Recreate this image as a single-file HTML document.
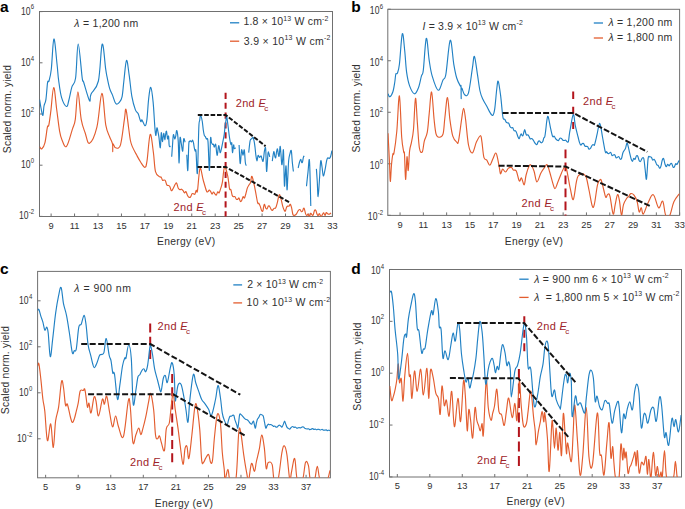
<!DOCTYPE html>
<html><head><meta charset="utf-8"><style>
html,body{margin:0;padding:0;background:#fff;width:685px;height:509px;overflow:hidden}
svg{display:block;font-family:"Liberation Sans",sans-serif}
</style></head><body>
<svg width="685" height="509" viewBox="0 0 685 509">
<defs><clipPath id="ca"><rect x="39.5" y="11.5" width="293.0" height="205.0"/></clipPath><clipPath id="cb"><rect x="387.8" y="9.3" width="291.8" height="206.1"/></clipPath><clipPath id="cc"><rect x="37.6" y="271.4" width="292.79999999999995" height="206.40000000000003"/></clipPath><clipPath id="cd"><rect x="389.5" y="269.5" width="292.0" height="207.5"/></clipPath></defs>
<rect x="39.5" y="11.5" width="293.0" height="205.0" fill="none" stroke="#707070" stroke-width="1"/>
<text x="0.00" y="11.80" font-size="15.5" text-anchor="start" fill="#000" font-weight="bold" font-style="normal" >a</text>
<line x1="51.12" y1="216.5" x2="51.12" y2="213.5" stroke="#707070" stroke-width="1"/>
<text x="51.12" y="228.90" font-size="9.3" text-anchor="middle" fill="#303030" font-weight="normal" font-style="normal" >9</text>
<line x1="74.56" y1="216.5" x2="74.56" y2="213.5" stroke="#707070" stroke-width="1"/>
<text x="74.56" y="228.90" font-size="9.3" text-anchor="middle" fill="#303030" font-weight="normal" font-style="normal" >11</text>
<line x1="98.00" y1="216.5" x2="98.00" y2="213.5" stroke="#707070" stroke-width="1"/>
<text x="98.00" y="228.90" font-size="9.3" text-anchor="middle" fill="#303030" font-weight="normal" font-style="normal" >13</text>
<line x1="121.44" y1="216.5" x2="121.44" y2="213.5" stroke="#707070" stroke-width="1"/>
<text x="121.44" y="228.90" font-size="9.3" text-anchor="middle" fill="#303030" font-weight="normal" font-style="normal" >15</text>
<line x1="144.88" y1="216.5" x2="144.88" y2="213.5" stroke="#707070" stroke-width="1"/>
<text x="144.88" y="228.90" font-size="9.3" text-anchor="middle" fill="#303030" font-weight="normal" font-style="normal" >17</text>
<line x1="168.32" y1="216.5" x2="168.32" y2="213.5" stroke="#707070" stroke-width="1"/>
<text x="168.32" y="228.90" font-size="9.3" text-anchor="middle" fill="#303030" font-weight="normal" font-style="normal" >19</text>
<line x1="191.76" y1="216.5" x2="191.76" y2="213.5" stroke="#707070" stroke-width="1"/>
<text x="191.76" y="228.90" font-size="9.3" text-anchor="middle" fill="#303030" font-weight="normal" font-style="normal" >21</text>
<line x1="215.20" y1="216.5" x2="215.20" y2="213.5" stroke="#707070" stroke-width="1"/>
<text x="215.20" y="228.90" font-size="9.3" text-anchor="middle" fill="#303030" font-weight="normal" font-style="normal" >23</text>
<line x1="238.64" y1="216.5" x2="238.64" y2="213.5" stroke="#707070" stroke-width="1"/>
<text x="238.64" y="228.90" font-size="9.3" text-anchor="middle" fill="#303030" font-weight="normal" font-style="normal" >25</text>
<line x1="262.08" y1="216.5" x2="262.08" y2="213.5" stroke="#707070" stroke-width="1"/>
<text x="262.08" y="228.90" font-size="9.3" text-anchor="middle" fill="#303030" font-weight="normal" font-style="normal" >27</text>
<line x1="285.52" y1="216.5" x2="285.52" y2="213.5" stroke="#707070" stroke-width="1"/>
<text x="285.52" y="228.90" font-size="9.3" text-anchor="middle" fill="#303030" font-weight="normal" font-style="normal" >29</text>
<line x1="308.96" y1="216.5" x2="308.96" y2="213.5" stroke="#707070" stroke-width="1"/>
<text x="308.96" y="228.90" font-size="9.3" text-anchor="middle" fill="#303030" font-weight="normal" font-style="normal" >31</text>
<line x1="332.40" y1="216.5" x2="332.40" y2="213.5" stroke="#707070" stroke-width="1"/>
<text x="332.40" y="228.90" font-size="9.3" text-anchor="middle" fill="#303030" font-weight="normal" font-style="normal" >33</text>
<line x1="39.5" y1="11.60" x2="42.5" y2="11.60" stroke="#707070" stroke-width="1"/>
<text transform="translate(34.20,14.60) scale(0.86,1)" x="0" y="0" font-size="10.0" text-anchor="end" fill="#303030">10<tspan font-size="7" dx="0.4" dy="-5.2">6</tspan></text>
<line x1="39.5" y1="62.80" x2="42.5" y2="62.80" stroke="#707070" stroke-width="1"/>
<text transform="translate(34.20,65.80) scale(0.86,1)" x="0" y="0" font-size="10.0" text-anchor="end" fill="#303030">10<tspan font-size="7" dx="0.4" dy="-5.2">4</tspan></text>
<line x1="39.5" y1="114.00" x2="42.5" y2="114.00" stroke="#707070" stroke-width="1"/>
<text transform="translate(34.20,117.00) scale(0.86,1)" x="0" y="0" font-size="10.0" text-anchor="end" fill="#303030">10<tspan font-size="7" dx="0.4" dy="-5.2">2</tspan></text>
<line x1="39.5" y1="165.20" x2="42.5" y2="165.20" stroke="#707070" stroke-width="1"/>
<text transform="translate(34.20,168.20) scale(0.86,1)" x="0" y="0" font-size="10.0" text-anchor="end" fill="#303030">10<tspan font-size="7" dx="0.4" dy="-5.2">0</tspan></text>
<line x1="39.5" y1="216.40" x2="42.5" y2="216.40" stroke="#707070" stroke-width="1"/>
<text transform="translate(34.20,219.40) scale(0.86,1)" x="0" y="0" font-size="10.0" text-anchor="end" fill="#303030">10<tspan font-size="7" dx="0.4" dy="-5.2">-2</tspan></text>
<text x="186.20" y="244.90" font-size="10.3" text-anchor="middle" fill="#303030" font-weight="normal" font-style="normal" letter-spacing="0.32">Energy (eV)</text>
<text x="0" y="0" font-size="10.3" letter-spacing="0.2" text-anchor="middle" fill="#303030" transform="translate(10.8,109) rotate(-90)">Scaled norm. yield</text>
<line x1="225.6" y1="92.8" x2="225.6" y2="216.5" stroke="#b3141c" stroke-width="2.0" stroke-dasharray="6.2,3.67"/>
<path d="M39.60,146.80 C40.00,147.15 40.97,149.48 41.90,148.80 C42.83,148.12 43.94,146.68 44.90,142.90 C45.86,139.12 46.72,130.30 47.40,127.20 C48.08,124.10 48.20,127.97 48.80,125.20 C49.39,122.44 49.94,118.00 50.80,111.40 C51.66,104.80 52.67,87.83 53.70,87.50 C54.73,87.17 55.67,101.87 56.70,109.50 C57.73,117.13 58.67,125.76 59.60,131.10 C60.53,136.44 60.79,137.32 62.00,140.00 C63.21,142.68 64.68,148.31 66.50,146.40 C68.32,144.49 70.86,133.84 72.40,129.10 C73.94,124.36 74.34,125.83 75.30,119.30 C76.26,112.77 76.87,91.80 77.90,91.80 C78.93,91.80 79.92,112.09 81.20,119.30 C82.48,126.51 83.75,128.80 85.20,133.00 C86.65,137.20 87.45,144.31 89.50,143.30 C91.55,142.29 94.73,135.93 96.90,127.20 C99.07,118.47 100.34,93.75 101.90,93.40 C103.46,93.05 104.44,117.57 105.80,125.20 C107.16,132.83 108.53,133.73 109.70,137.00 C110.87,140.27 111.97,141.33 112.50,143.90 C113.03,146.47 112.61,151.68 112.70,151.70 C112.79,151.72 112.49,144.68 113.00,144.00 C113.51,143.32 114.29,147.66 115.60,147.80 C116.91,147.94 118.96,149.79 120.50,144.80 C122.04,139.81 123.44,125.50 124.40,119.30 C125.36,113.10 125.25,107.79 126.00,109.40 C126.75,111.01 127.95,123.14 128.70,128.50 C129.45,133.85 129.71,136.92 130.30,140.00 C130.90,143.08 131.03,143.54 132.10,146.10 C133.17,148.66 134.91,151.82 136.40,154.60 C137.89,157.38 139.11,159.78 140.60,162.00 C142.09,164.22 143.78,167.48 144.90,167.30 C146.02,167.12 146.07,166.76 147.00,161.00 C147.93,155.24 149.08,135.89 150.20,134.40 C151.32,132.91 152.47,145.99 153.40,152.50 C154.33,159.01 154.40,167.33 155.50,171.60 C156.60,175.87 158.71,175.95 159.70,176.90 C160.69,177.85 160.63,176.40 161.13,177.00 C161.63,177.60 162.06,179.80 162.57,180.33 C163.07,180.85 163.50,179.94 164.00,180.00 C164.50,180.06 164.91,179.80 165.40,180.68 C165.89,181.57 166.31,184.22 166.80,185.05 C167.29,185.87 167.67,185.13 168.20,185.40 C168.72,185.67 169.24,185.65 169.80,186.57 C170.36,187.50 170.84,190.32 171.40,190.70 C171.96,191.08 172.44,189.67 173.00,188.74 C173.56,187.81 174.14,186.29 174.60,185.40 C175.06,184.51 175.28,184.07 175.65,183.68 C176.02,183.30 176.24,182.41 176.70,183.20 C177.16,183.99 177.74,187.05 178.30,188.17 C178.86,189.29 179.34,189.42 179.90,189.60 C180.46,189.78 180.94,188.99 181.50,189.19 C182.06,189.38 182.57,190.03 183.10,190.70 C183.62,191.37 184.01,192.89 184.50,193.03 C184.99,193.17 185.41,191.18 185.90,191.51 C186.39,191.83 186.78,193.90 187.30,194.90 C187.83,195.90 188.34,196.84 188.90,197.21 C189.46,197.58 189.94,197.62 190.50,197.00 C191.06,196.38 191.54,194.22 192.10,193.68 C192.66,193.14 193.20,193.83 193.70,193.90 C194.20,193.97 194.52,194.74 194.97,194.10 C195.41,193.47 195.79,190.87 196.23,190.27 C196.68,189.68 196.84,194.53 197.50,190.70 C198.16,186.87 199.00,170.27 200.00,168.40 C201.00,166.53 202.08,176.10 203.20,180.00 C204.32,183.90 205.59,188.64 206.40,190.70 C207.21,192.76 207.33,191.88 207.83,191.76 C208.34,191.65 208.76,190.04 209.27,190.03 C209.77,190.02 210.20,190.99 210.70,191.70 C211.20,192.41 211.61,194.02 212.10,194.07 C212.59,194.11 213.01,192.00 213.50,191.97 C213.99,191.94 214.40,193.37 214.90,193.90 C215.40,194.43 215.83,195.38 216.33,195.01 C216.84,194.64 217.26,192.17 217.77,191.78 C218.27,191.39 218.67,193.44 219.20,192.80 C219.73,192.16 220.24,189.98 220.80,188.12 C221.36,186.27 221.75,185.84 222.40,182.20 C223.05,178.56 223.57,168.42 224.50,167.30 C225.43,166.18 226.82,172.07 227.70,175.80 C228.57,179.53 228.95,186.18 229.50,188.60 C230.05,191.02 230.39,188.44 230.87,189.64 C231.34,190.83 231.75,194.19 232.23,195.43 C232.71,196.66 233.13,196.50 233.60,196.70 C234.07,196.90 234.47,196.15 234.93,196.58 C235.40,197.01 235.80,198.65 236.27,199.14 C236.73,199.64 237.13,199.61 237.60,199.40 C238.07,199.19 238.49,197.61 238.97,197.95 C239.44,198.30 239.85,200.95 240.33,201.40 C240.81,201.84 241.22,201.32 241.70,200.50 C242.18,199.68 242.59,197.17 243.07,196.73 C243.54,196.29 243.96,198.47 244.43,198.00 C244.91,197.52 245.28,195.77 245.80,194.00 C246.32,192.23 246.84,189.48 247.40,187.90 C247.96,186.33 248.46,185.93 249.00,185.00 C249.54,184.07 249.97,184.09 250.50,182.59 C251.03,181.08 251.21,175.31 252.00,176.40 C252.79,177.49 254.02,184.22 255.00,188.80 C255.98,193.39 256.92,200.06 257.60,202.60 C258.28,205.14 258.44,202.70 258.90,203.31 C259.35,203.92 259.75,204.89 260.20,206.10 C260.65,207.31 261.05,209.31 261.50,210.20 C261.95,211.09 262.42,211.82 262.80,211.20 C263.18,210.58 263.35,207.86 263.65,206.65 C263.95,205.44 264.12,204.03 264.50,204.30 C264.88,204.57 265.35,207.45 265.80,208.22 C266.25,208.99 266.65,209.10 267.10,208.70 C267.56,208.30 267.94,206.34 268.40,205.95 C268.85,205.57 269.25,205.95 269.70,206.50 C270.15,207.05 270.55,208.43 271.00,209.11 C271.45,209.80 271.78,210.53 272.30,210.40 C272.82,210.27 273.41,208.84 274.00,208.39 C274.59,207.93 275.10,208.90 275.70,207.80 C276.30,206.70 276.84,204.39 277.45,202.11 C278.06,199.84 278.59,195.40 279.20,194.80 C279.81,194.20 280.34,196.72 280.95,198.69 C281.56,200.67 282.17,204.17 282.70,206.10 C283.23,208.03 283.55,208.85 284.00,209.74 C284.45,210.63 284.85,211.62 285.30,211.20 C285.75,210.78 286.11,208.21 286.55,207.32 C286.99,206.43 287.35,206.31 287.80,206.10 C288.25,205.89 288.65,206.43 289.10,206.12 C289.56,205.80 289.94,203.91 290.40,204.30 C290.85,204.69 291.25,206.50 291.70,208.32 C292.15,210.14 292.47,213.48 293.00,214.70 C293.53,215.92 294.14,215.43 294.75,215.28 C295.36,215.12 295.89,214.61 296.50,213.80 C297.11,212.99 297.64,211.42 298.25,210.67 C298.86,209.92 299.48,209.33 300.00,209.50 C300.52,209.67 300.81,211.33 301.25,211.63 C301.69,211.92 302.12,211.72 302.50,211.20 C302.88,210.68 303.08,209.11 303.40,208.67 C303.71,208.24 303.92,207.80 304.30,208.70 C304.69,209.60 305.15,212.62 305.60,213.83 C306.06,215.04 306.45,215.57 306.90,215.60 C307.35,215.63 307.71,213.76 308.15,213.98 C308.59,214.20 308.96,216.98 309.40,216.86 C309.84,216.74 310.21,213.68 310.65,213.31 C311.09,212.93 311.45,214.39 311.90,214.70 C312.35,215.01 312.75,215.80 313.20,215.06 C313.65,214.31 314.05,211.26 314.50,210.45 C314.95,209.63 315.38,209.82 315.80,210.40 C316.22,210.98 316.51,212.84 316.90,213.75 C317.28,214.66 317.55,215.61 318.00,215.60 C318.45,215.59 318.95,213.47 319.47,213.68 C319.98,213.88 320.42,216.58 320.93,216.76 C321.45,216.93 321.92,215.39 322.40,214.70 C322.88,214.01 323.25,212.65 323.70,212.80 C324.15,212.94 324.55,215.54 325.00,215.51 C325.45,215.47 325.85,212.88 326.30,212.59 C326.75,212.29 327.08,213.52 327.60,213.80 C328.12,214.08 328.71,214.35 329.30,214.21 C329.89,214.07 330.70,213.21 331.00,213.00" fill="none" stroke="#e35d2f" stroke-width="1.15" stroke-linejoin="round" clip-path="url(#ca)"/>
<path d="M39.60,99.60 C39.84,101.07 40.42,105.23 41.00,108.00 C41.58,110.77 42.38,115.75 42.90,115.40 C43.42,115.05 43.48,108.77 44.00,106.00 C44.52,103.23 45.27,103.73 45.90,99.60 C46.53,95.47 47.06,85.66 47.60,82.40 C48.14,79.15 48.35,83.31 49.00,81.00 C49.65,78.69 50.44,76.55 51.30,69.20 C52.16,61.85 52.88,39.77 53.90,39.00 C54.91,38.23 56.28,57.62 57.10,64.80 C57.92,71.97 57.81,74.24 58.60,80.00 C59.39,85.76 60.22,93.06 61.60,97.70 C62.98,102.34 65.22,106.10 66.50,106.50 C67.78,106.90 67.95,103.43 68.90,100.00 C69.85,96.57 70.73,90.75 71.90,86.90 C73.07,83.05 74.50,85.49 75.60,78.00 C76.70,70.51 77.05,44.10 78.20,44.10 C79.36,44.10 81.26,71.37 82.20,78.00 C83.14,84.63 82.32,78.05 83.60,82.00 C84.88,85.95 88.20,98.46 89.50,100.60 C90.80,102.73 89.44,97.63 91.00,94.20 C92.56,90.77 96.44,89.77 98.40,81.00 C100.36,72.23 100.92,46.16 102.20,44.10 C103.48,42.04 104.84,63.41 105.70,69.20 C106.56,74.99 106.40,73.79 107.10,77.20 C107.80,80.61 108.77,85.60 109.70,88.70 C110.63,91.80 111.32,92.28 112.40,94.90 C113.48,97.53 114.66,102.46 115.90,103.70 C117.14,104.94 118.42,103.24 119.50,102.00 C120.58,100.76 121.33,100.33 122.10,96.60 C122.87,92.87 123.13,87.03 123.90,80.70 C124.67,74.37 125.57,61.33 126.50,60.40 C127.43,59.47 128.25,69.07 129.20,75.40 C130.14,81.73 130.81,90.56 131.90,96.60 C132.99,102.64 134.31,106.94 135.40,109.90 C136.49,112.86 137.17,111.49 138.10,113.50 C139.03,115.51 140.02,120.26 140.70,121.40 C141.38,122.54 141.23,119.23 142.00,120.00 C142.77,120.77 144.24,125.87 145.10,125.80 C145.96,125.73 146.27,124.39 146.90,119.60 C147.53,114.80 148.02,104.03 148.70,98.40 C149.38,92.77 150.03,86.79 150.80,87.40 C151.57,88.01 152.40,95.06 153.10,101.90 C153.80,108.74 154.33,120.64 154.80,126.50 C155.27,132.36 155.43,135.16 155.80,135.40 C156.17,135.65 156.52,128.50 156.90,127.90 C157.28,127.31 157.65,130.44 158.00,132.00 C158.35,133.56 158.50,134.03 158.90,136.80 C159.30,139.57 159.88,148.52 160.30,147.80 C160.72,147.08 160.93,133.78 161.30,132.70 C161.67,131.61 161.98,141.48 162.40,141.60 C162.82,141.72 163.28,133.75 163.70,133.40 C164.12,133.05 164.46,139.45 164.80,139.60 C165.14,139.75 165.35,135.72 165.65,134.27 C165.95,132.82 166.16,130.49 166.50,131.30 C166.84,132.11 167.23,138.06 167.60,138.90 C167.97,139.74 168.32,134.91 168.60,136.10 C168.88,137.29 168.85,143.90 169.20,145.70 C169.55,147.50 170.35,146.28 170.60,146.40 M171.70,156.70 C171.85,154.57 172.25,148.37 172.55,144.52 C172.85,140.67 173.02,135.68 173.40,134.70 C173.78,133.72 174.29,138.66 174.70,138.90 C175.11,139.14 175.38,137.51 175.75,136.06 C176.12,134.61 176.37,129.75 176.80,130.60 C177.23,131.45 177.80,135.25 178.20,140.90 C178.60,146.55 178.78,163.37 179.10,162.90 C179.41,162.43 179.62,141.56 180.00,138.20 C180.38,134.84 180.83,141.42 181.30,143.70 C181.77,145.97 182.28,152.04 182.70,151.20 C183.12,150.36 183.28,140.46 183.70,138.90 C184.12,137.34 184.85,141.71 185.10,142.30 M186.80,154.70 C186.98,157.47 187.45,172.30 187.80,170.50 C188.15,168.70 188.48,149.48 188.80,144.40 C189.12,139.32 189.35,142.08 189.65,141.47 C189.95,140.86 190.17,140.83 190.50,140.90 C190.83,140.97 191.18,141.98 191.55,141.86 C191.92,141.74 192.27,140.07 192.60,140.20 C192.93,140.33 193.15,141.30 193.45,142.63 C193.75,143.96 194.00,146.33 194.30,147.80 C194.60,149.27 194.85,150.44 195.15,151.04 C195.45,151.63 195.61,147.32 196.00,151.20 C196.39,155.08 196.91,177.28 197.40,173.20 C197.89,169.12 198.40,137.14 198.80,127.90 C199.20,118.66 199.38,122.56 199.70,120.39 C200.01,118.22 200.16,115.39 200.60,115.50 C201.04,115.61 201.74,118.51 202.20,121.00 C202.66,123.49 202.88,127.19 203.25,129.71 C203.62,132.23 203.93,134.19 204.30,135.40 C204.67,136.61 204.98,136.03 205.35,136.64 C205.72,137.25 205.94,138.03 206.40,138.90 C206.86,139.77 207.47,136.07 208.00,141.60 C208.53,147.13 208.96,170.97 209.40,170.50 C209.84,170.03 210.13,143.77 210.50,138.90 C210.87,134.03 211.15,141.69 211.50,142.65 C211.85,143.61 212.17,144.13 212.50,144.40 C212.83,144.67 213.09,143.74 213.40,144.21 C213.72,144.69 213.90,147.05 214.30,147.10 C214.70,147.15 215.21,143.05 215.70,144.50 C216.19,145.95 216.57,155.19 217.10,155.40 C217.62,155.61 218.17,146.19 218.70,145.70 C219.22,145.21 219.64,152.02 220.10,152.60 C220.56,153.18 220.91,150.69 221.35,149.01 C221.79,147.33 222.10,145.50 222.60,143.00 C223.10,140.50 223.77,137.61 224.20,134.70 C224.63,131.79 224.75,128.76 225.05,126.36 C225.35,123.96 225.61,122.74 225.90,121.00 C226.19,119.26 226.31,115.44 226.70,116.40 C227.08,117.36 227.61,122.81 228.10,126.50 C228.59,130.19 229.01,134.37 229.50,137.50 C229.99,140.63 230.50,143.44 230.90,144.40 C231.30,145.36 231.52,141.56 231.80,143.00 C232.08,144.44 232.19,152.25 232.50,152.60 C232.81,152.95 233.28,145.72 233.60,145.00 C233.91,144.28 233.93,148.01 234.30,148.50 C234.67,148.99 235.45,147.92 235.70,147.80 M239.10,145.00 C239.29,148.25 239.76,162.74 240.20,163.60 C240.64,164.46 241.11,151.34 241.60,149.90 C242.09,148.47 242.53,155.40 243.00,155.40 C243.47,155.40 243.90,148.71 244.30,149.90 C244.70,151.09 244.95,159.44 245.30,162.20 C245.65,164.96 246.12,165.09 246.30,165.70 M248.70,152.60 C248.94,150.55 249.61,143.30 250.10,140.90 C250.59,138.50 250.97,139.50 251.50,138.90 C252.03,138.31 252.63,137.03 253.10,137.50 C253.57,137.97 253.86,139.86 254.20,141.60 C254.54,143.34 254.75,145.05 255.05,147.47 C255.35,149.88 255.56,153.05 255.90,155.40 C256.24,157.75 256.62,160.90 257.00,160.90 C257.38,160.90 257.66,156.01 258.10,155.40 C258.54,154.79 258.98,157.30 259.50,157.40 C260.02,157.50 260.64,155.62 261.10,156.00 C261.56,156.38 261.78,158.74 262.15,159.60 C262.52,160.45 262.79,162.46 263.20,160.90 C263.61,159.34 264.06,152.78 264.50,150.70 C264.94,148.62 265.33,145.36 265.70,149.00 C266.07,152.64 266.20,170.75 266.60,171.50 C267.00,172.25 267.61,156.48 268.00,153.30 C268.39,150.12 268.55,152.72 268.85,153.34 C269.15,153.95 269.55,156.19 269.70,156.80 M272.30,161.10 C272.45,160.01 272.85,156.54 273.15,154.88 C273.45,153.22 273.70,151.35 274.00,151.60 C274.30,151.85 274.55,155.22 274.85,156.29 C275.15,157.36 275.39,158.51 275.70,157.70 C276.01,156.89 276.29,153.16 276.60,151.64 C276.92,150.11 277.19,148.52 277.50,149.00 C277.81,149.48 278.05,153.16 278.35,154.37 C278.65,155.58 278.89,157.29 279.20,155.90 C279.51,154.51 279.79,146.76 280.10,146.40 C280.41,146.04 280.65,150.68 280.95,153.86 C281.25,157.05 281.50,163.61 281.80,164.60 C282.10,165.59 282.35,161.97 282.65,159.54 C282.95,157.11 283.19,146.19 283.50,150.70 C283.81,155.21 284.09,181.02 284.40,185.30 C284.71,189.58 284.95,178.48 285.25,175.16 C285.55,171.83 285.79,163.77 286.10,166.30 C286.41,168.83 286.69,187.87 287.00,189.60 C287.31,191.33 287.55,181.33 287.85,176.20 C288.15,171.07 288.32,164.26 288.70,160.30 C289.08,156.34 289.55,155.26 290.00,153.58 C290.45,151.90 290.89,149.12 291.30,150.70 C291.71,152.28 291.98,158.97 292.35,162.61 C292.72,166.25 293.22,169.94 293.40,171.50 M298.20,168.00 C298.43,166.99 299.05,163.73 299.50,162.23 C299.95,160.72 300.42,159.38 300.80,159.40 C301.18,159.42 301.35,161.88 301.65,162.34 C301.95,162.79 302.19,162.89 302.50,162.00 C302.81,161.11 303.08,158.30 303.40,157.24 C303.71,156.17 304.14,156.13 304.30,155.90 M306.50,186.20 C306.76,183.75 307.48,176.57 308.00,172.18 C308.52,167.79 309.01,155.16 309.50,161.10 C309.99,167.04 310.57,198.22 310.80,206.10 M316.40,168.90 C316.55,171.07 316.95,176.43 317.25,181.28 C317.55,186.13 317.72,196.74 318.10,196.60 C318.48,196.46 318.94,186.70 319.40,180.49 C319.85,174.28 320.25,163.51 320.70,161.10 C321.15,158.69 321.55,164.16 322.00,166.74 C322.45,169.31 322.78,175.23 323.30,175.80 C323.82,176.37 324.41,172.68 325.00,169.97 C325.59,167.26 326.18,162.44 326.70,160.30 C327.22,158.16 327.55,158.08 328.00,157.76 C328.45,157.45 328.85,158.72 329.30,158.50 C329.75,158.28 330.15,157.86 330.60,156.49 C331.06,155.13 331.67,151.71 331.90,150.70" fill="none" stroke="#2181c4" stroke-width="1.15" stroke-linejoin="round" clip-path="url(#ca)"/>
<polyline points="197.80,114.90 225.60,114.90 265.60,146.20" fill="none" stroke="#141414" stroke-width="2.0" stroke-dasharray="4.6,1.8" stroke-linejoin="miter"/>
<polyline points="197.50,166.90 225.60,166.90 289.20,202.10" fill="none" stroke="#141414" stroke-width="2.0" stroke-dasharray="4.6,1.8" stroke-linejoin="miter"/>
<text x="235.70" y="106.60" font-size="11" fill="#9e2329" letter-spacing="0.35">2nd <tspan font-style="italic" letter-spacing="-0.4">E</tspan><tspan font-size="8" dx="-1.3" dy="4.0" letter-spacing="0">c</tspan></text>
<text x="173.50" y="211.30" font-size="11" fill="#9e2329" letter-spacing="0.35">2nd <tspan font-style="italic" letter-spacing="-0.4">E</tspan><tspan font-size="8" dx="-1.3" dy="4.0" letter-spacing="0">c</tspan></text>
<text x="74.30" y="26.70" font-size="10.5" fill="#303030" letter-spacing="0.27"><tspan font-style="italic">λ</tspan> = 1,200 nm</text>
<line x1="230" y1="22.8" x2="239.2" y2="22.8" stroke="#2181c4" stroke-width="1.3"/>
<line x1="230" y1="41.2" x2="239.2" y2="41.2" stroke="#e35d2f" stroke-width="1.3"/>
<text x="243.40" y="25.30" font-size="10.5" fill="#303030" text-anchor="start" letter-spacing="0.2">1.8 × 10<tspan font-size="6.93" dy="-4.2">13</tspan><tspan dy="4.2"> W cm</tspan><tspan font-size="6.93" dy="-4.2">-2</tspan></text>
<text x="243.80" y="44.60" font-size="10.5" fill="#303030" text-anchor="start" letter-spacing="0.3">3.9 × 10<tspan font-size="6.93" dy="-4.2">13</tspan><tspan dy="4.2"> W cm</tspan><tspan font-size="6.93" dy="-4.2">-2</tspan></text>
<rect x="387.8" y="9.3" width="291.8" height="206.1" fill="none" stroke="#707070" stroke-width="1"/>
<text x="351.30" y="11.80" font-size="15.5" text-anchor="start" fill="#000" font-weight="bold" font-style="normal" >b</text>
<line x1="400.05" y1="215.4" x2="400.05" y2="212.4" stroke="#707070" stroke-width="1"/>
<text x="400.05" y="228.00" font-size="9.3" text-anchor="middle" fill="#303030" font-weight="normal" font-style="normal" >9</text>
<line x1="423.35" y1="215.4" x2="423.35" y2="212.4" stroke="#707070" stroke-width="1"/>
<text x="423.35" y="228.00" font-size="9.3" text-anchor="middle" fill="#303030" font-weight="normal" font-style="normal" >11</text>
<line x1="446.65" y1="215.4" x2="446.65" y2="212.4" stroke="#707070" stroke-width="1"/>
<text x="446.65" y="228.00" font-size="9.3" text-anchor="middle" fill="#303030" font-weight="normal" font-style="normal" >13</text>
<line x1="469.95" y1="215.4" x2="469.95" y2="212.4" stroke="#707070" stroke-width="1"/>
<text x="469.95" y="228.00" font-size="9.3" text-anchor="middle" fill="#303030" font-weight="normal" font-style="normal" >15</text>
<line x1="493.25" y1="215.4" x2="493.25" y2="212.4" stroke="#707070" stroke-width="1"/>
<text x="493.25" y="228.00" font-size="9.3" text-anchor="middle" fill="#303030" font-weight="normal" font-style="normal" >17</text>
<line x1="516.55" y1="215.4" x2="516.55" y2="212.4" stroke="#707070" stroke-width="1"/>
<text x="516.55" y="228.00" font-size="9.3" text-anchor="middle" fill="#303030" font-weight="normal" font-style="normal" >19</text>
<line x1="539.85" y1="215.4" x2="539.85" y2="212.4" stroke="#707070" stroke-width="1"/>
<text x="539.85" y="228.00" font-size="9.3" text-anchor="middle" fill="#303030" font-weight="normal" font-style="normal" >21</text>
<line x1="563.15" y1="215.4" x2="563.15" y2="212.4" stroke="#707070" stroke-width="1"/>
<text x="563.15" y="228.00" font-size="9.3" text-anchor="middle" fill="#303030" font-weight="normal" font-style="normal" >23</text>
<line x1="586.45" y1="215.4" x2="586.45" y2="212.4" stroke="#707070" stroke-width="1"/>
<text x="586.45" y="228.00" font-size="9.3" text-anchor="middle" fill="#303030" font-weight="normal" font-style="normal" >25</text>
<line x1="609.75" y1="215.4" x2="609.75" y2="212.4" stroke="#707070" stroke-width="1"/>
<text x="609.75" y="228.00" font-size="9.3" text-anchor="middle" fill="#303030" font-weight="normal" font-style="normal" >27</text>
<line x1="633.05" y1="215.4" x2="633.05" y2="212.4" stroke="#707070" stroke-width="1"/>
<text x="633.05" y="228.00" font-size="9.3" text-anchor="middle" fill="#303030" font-weight="normal" font-style="normal" >29</text>
<line x1="656.35" y1="215.4" x2="656.35" y2="212.4" stroke="#707070" stroke-width="1"/>
<text x="656.35" y="228.00" font-size="9.3" text-anchor="middle" fill="#303030" font-weight="normal" font-style="normal" >31</text>
<line x1="679.65" y1="215.4" x2="679.65" y2="212.4" stroke="#707070" stroke-width="1"/>
<text x="679.65" y="228.00" font-size="9.3" text-anchor="middle" fill="#303030" font-weight="normal" font-style="normal" >33</text>
<line x1="387.8" y1="9.24" x2="390.8" y2="9.24" stroke="#707070" stroke-width="1"/>
<text transform="translate(383.10,14.24) scale(0.86,1)" x="0" y="0" font-size="10.0" text-anchor="end" fill="#303030">10<tspan font-size="7" dx="0.4" dy="-5.2">6</tspan></text>
<line x1="387.8" y1="60.76" x2="390.8" y2="60.76" stroke="#707070" stroke-width="1"/>
<text transform="translate(383.10,65.76) scale(0.86,1)" x="0" y="0" font-size="10.0" text-anchor="end" fill="#303030">10<tspan font-size="7" dx="0.4" dy="-5.2">4</tspan></text>
<line x1="387.8" y1="112.28" x2="390.8" y2="112.28" stroke="#707070" stroke-width="1"/>
<text transform="translate(383.10,117.28) scale(0.86,1)" x="0" y="0" font-size="10.0" text-anchor="end" fill="#303030">10<tspan font-size="7" dx="0.4" dy="-5.2">2</tspan></text>
<line x1="387.8" y1="163.80" x2="390.8" y2="163.80" stroke="#707070" stroke-width="1"/>
<text transform="translate(383.10,168.80) scale(0.86,1)" x="0" y="0" font-size="10.0" text-anchor="end" fill="#303030">10<tspan font-size="7" dx="0.4" dy="-5.2">0</tspan></text>
<line x1="387.8" y1="215.32" x2="390.8" y2="215.32" stroke="#707070" stroke-width="1"/>
<text transform="translate(383.10,220.32) scale(0.86,1)" x="0" y="0" font-size="10.0" text-anchor="end" fill="#303030">10<tspan font-size="7" dx="0.4" dy="-5.2">-2</tspan></text>
<text x="534.10" y="245.00" font-size="10.3" text-anchor="middle" fill="#303030" font-weight="normal" font-style="normal" letter-spacing="0.32">Energy (eV)</text>
<text x="0" y="0" font-size="10.3" letter-spacing="0.2" text-anchor="middle" fill="#303030" transform="translate(360,108.3) rotate(-90)">Scaled norm. yield</text>
<line x1="573.2" y1="91.5" x2="573.2" y2="129" stroke="#b3141c" stroke-width="2.0" stroke-dasharray="7.5,7.8"/>
<line x1="565.5" y1="149.4" x2="565.5" y2="215.4" stroke="#b3141c" stroke-width="2.0" stroke-dasharray="8.8,4.2"/>
<path d="M388.00,133.20 C388.26,138.36 389.10,154.26 389.50,162.70 C389.90,171.13 389.95,181.05 390.30,181.40 C390.65,181.75 391.05,169.51 391.50,164.70 C391.95,159.89 392.46,155.95 392.90,153.90 C393.34,151.85 393.32,156.96 394.00,153.00 C394.68,149.04 395.86,141.29 396.80,131.30 C397.75,121.31 398.54,94.87 399.40,95.90 C400.26,96.93 400.95,127.40 401.70,137.20 C402.45,147.00 403.21,148.96 403.70,151.90 C404.19,154.84 404.17,149.19 404.50,154.00 C404.83,158.81 405.16,178.91 405.60,179.40 C406.04,179.89 406.55,158.34 407.00,156.80 C407.45,155.26 407.75,171.63 408.20,170.60 C408.65,169.57 409.02,155.89 409.60,150.90 C410.18,145.91 410.82,145.88 411.50,142.10 C412.18,138.32 412.80,136.97 413.50,129.30 C414.20,121.64 414.82,99.33 415.50,98.30 C416.18,97.27 416.72,114.70 417.40,123.40 C418.08,132.10 418.54,143.01 419.40,148.00 C420.26,152.99 421.44,153.11 422.30,151.90 C423.16,150.69 423.43,144.55 424.30,141.10 C425.18,137.65 426.44,137.01 427.30,132.20 C428.16,127.39 428.45,120.63 429.20,113.60 C429.95,106.56 430.74,90.97 431.60,92.00 C432.46,93.03 433.31,112.12 434.10,119.50 C434.89,126.88 435.24,131.10 436.10,134.20 C436.96,137.30 437.79,137.20 439.00,137.20 C440.21,137.20 441.97,137.65 443.00,134.20 C444.03,130.75 444.11,123.92 444.90,117.50 C445.69,111.08 446.62,97.15 447.50,97.50 C448.38,97.85 448.97,112.73 449.90,119.50 C450.83,126.27 451.61,132.24 452.80,136.20 C453.99,140.16 455.70,141.26 456.70,142.10 C457.70,142.94 457.64,144.96 458.50,141.00 C459.36,137.04 460.71,125.22 461.60,119.50 C462.49,113.78 462.90,108.30 463.60,108.30 C464.30,108.30 464.74,113.08 465.60,119.50 C466.46,125.92 467.31,139.16 468.50,145.00 C469.69,150.84 471.02,153.41 472.40,152.90 C473.78,152.39 475.00,145.11 476.40,142.10 C477.80,139.09 479.44,135.79 480.40,135.70 C481.36,135.61 481.29,137.82 481.90,141.60 C482.51,145.38 483.04,154.05 483.90,157.30 C484.76,160.56 485.77,158.82 486.80,160.20 C487.83,161.58 488.77,165.36 489.80,165.20 C490.83,165.04 491.67,161.44 492.70,159.30 C493.73,157.17 494.84,153.18 495.70,153.00 C496.56,152.82 496.92,155.48 497.60,158.30 C498.28,161.12 499.08,166.35 499.60,169.10 C500.12,171.85 500.08,174.00 500.60,174.00 C501.12,174.00 501.74,169.45 502.60,169.10 C503.46,168.75 504.47,172.18 505.50,172.00 C506.53,171.82 507.45,168.89 508.50,168.10 C509.55,167.31 510.64,167.15 511.50,167.50 C512.36,167.85 512.56,169.49 513.40,170.10 C514.24,170.71 515.27,169.11 516.30,171.00 C517.33,172.89 518.39,179.68 519.30,180.90 C520.21,182.12 520.64,177.32 521.50,178.00 C522.36,178.68 523.40,185.33 524.20,184.80 C525.00,184.28 525.24,178.27 526.10,175.00 C526.96,171.73 528.24,167.81 529.10,166.10 C529.96,164.38 530.14,164.34 531.00,165.20 C531.86,166.06 532.97,168.08 534.00,171.00 C535.03,173.92 535.69,181.55 536.90,181.90 C538.11,182.25 539.52,175.59 540.90,173.00 C542.28,170.41 543.70,168.53 544.80,167.10 C545.90,165.66 546.34,163.94 547.20,164.80 C548.06,165.66 548.74,168.85 549.70,172.00 C550.66,175.15 551.77,179.88 552.70,182.80 C553.63,185.72 554.14,188.70 555.00,188.70 C555.86,188.70 556.46,185.55 557.60,182.80 C558.74,180.05 560.31,175.75 561.50,173.00 C562.69,170.25 563.52,167.80 564.40,167.10 C565.27,166.40 565.47,165.22 566.50,169.00 C567.53,172.78 569.11,183.36 570.30,188.70 C571.49,194.04 572.27,200.53 573.30,199.50 C574.33,198.47 575.36,186.91 576.20,182.80 C577.04,178.69 577.05,177.61 578.10,176.00 C579.15,174.39 580.99,173.70 582.20,173.60 C583.41,173.50 584.23,174.54 585.00,175.40 C585.77,176.26 585.87,175.77 586.60,178.50 C587.34,181.23 588.20,186.17 589.20,191.00 C590.20,195.83 591.39,203.81 592.30,206.10 C593.21,208.39 593.49,207.83 594.40,204.10 C595.31,200.37 596.50,189.09 597.50,184.80 C598.50,180.51 599.37,180.14 600.10,179.60 C600.84,179.06 601.05,179.88 601.70,181.70 C602.35,183.52 603.08,187.27 603.80,190.00 C604.52,192.73 605.08,196.57 605.80,197.30 C606.52,198.03 607.16,194.38 607.90,194.20 C608.63,194.02 609.09,192.84 610.00,196.30 C610.91,199.77 612.19,212.55 613.10,214.00 C614.01,215.45 614.43,207.98 615.20,204.60 C615.97,201.22 616.76,195.43 617.50,194.70 C618.24,193.97 618.70,196.85 619.40,200.40 C620.10,203.95 620.78,214.27 621.50,215.00 C622.22,215.73 622.59,207.52 623.50,204.60 C624.41,201.68 625.77,199.75 626.70,198.30 C627.63,196.85 628.08,197.12 628.80,196.30 C629.52,195.48 629.89,193.79 630.80,193.60 C631.71,193.41 632.90,193.82 634.00,195.20 C635.10,196.58 636.19,198.58 637.10,201.50 C638.01,204.42 638.47,210.81 639.20,211.90 C639.94,212.99 640.58,207.33 641.30,207.70 C642.02,208.07 642.13,214.82 643.30,214.00 C644.47,213.18 646.25,206.38 648.00,203.00 C649.75,199.62 651.44,193.88 653.30,194.70 C655.15,195.52 656.96,206.56 658.60,207.70 C660.25,208.84 661.46,199.87 662.70,201.20 C663.94,202.53 664.46,212.83 665.70,215.30 C666.94,217.77 668.37,217.66 669.80,215.30 C671.23,212.94 672.18,205.62 673.90,201.80 C675.62,197.99 678.60,194.95 679.60,193.50" fill="none" stroke="#e35d2f" stroke-width="1.15" stroke-linejoin="round" clip-path="url(#cb)"/>
<path d="M388.00,93.80 C388.33,94.31 389.04,97.05 389.90,96.70 C390.76,96.35 392.04,94.37 392.90,91.80 C393.76,89.23 394.29,85.10 394.80,82.00 C395.31,78.90 395.35,75.66 395.80,74.10 C396.25,72.54 396.77,74.81 397.40,73.10 C398.03,71.38 398.54,71.18 399.40,64.30 C400.26,57.42 401.37,36.21 402.30,33.80 C403.23,31.38 403.95,43.78 404.70,50.50 C405.45,57.22 405.74,66.00 406.60,72.20 C407.46,78.40 408.22,82.12 409.60,85.90 C410.98,89.68 412.96,93.45 414.50,93.80 C416.04,94.15 417.19,91.00 418.40,87.90 C419.61,84.80 420.54,79.20 421.40,76.10 C422.26,73.00 422.44,76.80 423.30,70.20 C424.16,63.60 425.27,40.12 426.30,38.40 C427.33,36.68 428.17,53.80 429.20,60.40 C430.23,67.00 430.64,70.88 432.20,76.10 C433.76,81.31 436.21,89.52 438.10,90.20 C439.99,90.88 441.63,82.82 443.00,80.00 C444.37,77.18 444.64,81.05 445.90,74.10 C447.16,67.15 448.82,42.01 450.20,40.30 C451.58,38.59 452.66,57.70 453.80,64.30 C454.94,70.90 455.56,74.22 456.70,78.00 C457.84,81.78 459.55,84.50 460.30,85.90 C461.05,87.30 460.84,83.76 461.00,86.00 C461.16,88.24 461.11,98.35 461.20,98.70 C461.29,99.05 460.90,88.70 461.50,88.00 C462.10,87.30 463.38,93.86 464.60,94.70 C465.83,95.54 467.13,97.44 468.50,92.80 C469.87,88.16 471.37,74.57 472.40,68.20 C473.43,61.83 473.52,55.37 474.40,56.40 C475.27,57.43 476.42,68.04 477.40,74.10 C478.38,80.16 479.04,86.59 480.00,91.00 C480.96,95.41 481.71,96.64 482.90,99.30 C484.09,101.96 485.59,103.96 486.80,106.20 C488.01,108.44 488.77,110.49 489.80,112.10 C490.83,113.71 491.84,115.93 492.70,115.40 C493.56,114.88 494.00,113.63 494.70,109.10 C495.40,104.57 496.09,94.38 496.70,89.50 C497.31,84.62 497.52,80.17 498.20,81.20 C498.88,82.23 499.83,89.49 500.60,95.40 C501.37,101.31 502.09,110.89 502.60,115.00 C503.11,119.11 503.11,118.13 503.50,118.90 C503.89,119.67 504.37,118.81 504.83,119.39 C505.30,119.97 505.70,121.60 506.17,122.22 C506.63,122.83 507.04,122.71 507.50,122.90 C507.96,123.09 508.35,122.65 508.80,123.32 C509.25,123.99 509.64,125.94 510.10,126.73 C510.55,127.51 510.94,127.63 511.40,127.80 C511.85,127.97 512.24,127.19 512.70,127.69 C513.15,128.18 513.54,130.10 514.00,130.62 C514.46,131.15 514.92,130.49 515.30,130.70 C515.68,130.91 515.85,131.23 516.15,131.81 C516.45,132.38 516.65,133.03 517.00,134.00 C517.35,134.97 517.75,136.54 518.15,137.35 C518.55,138.15 518.93,138.90 519.30,138.60 C519.67,138.30 519.92,136.49 520.25,135.63 C520.58,134.77 520.88,133.71 521.20,133.70 C521.52,133.69 521.79,135.25 522.10,135.57 C522.41,135.88 522.69,136.12 523.00,135.50 C523.31,134.88 523.59,133.06 523.90,132.04 C524.21,131.03 524.49,129.54 524.80,129.70 C525.11,129.86 525.35,132.00 525.65,132.93 C525.95,133.86 526.12,134.67 526.50,135.00 C526.88,135.33 527.34,134.56 527.80,134.84 C528.25,135.12 528.66,135.88 529.10,136.60 C529.54,137.32 529.88,138.62 530.30,138.96 C530.72,139.29 531.07,138.43 531.50,138.50 C531.93,138.57 532.31,138.86 532.75,139.38 C533.19,139.91 533.53,140.74 534.00,141.50 C534.47,142.26 534.94,143.21 535.45,143.73 C535.96,144.26 536.42,144.88 536.90,144.50 C537.38,144.12 537.75,142.18 538.20,141.57 C538.66,140.95 538.98,140.79 539.50,141.00 C540.02,141.21 540.57,142.70 541.15,142.79 C541.73,142.88 542.34,142.35 542.80,141.50 C543.26,140.65 543.45,138.78 543.80,137.92 C544.15,137.07 544.45,138.04 544.80,136.60 C545.15,135.16 545.45,132.42 545.80,129.67 C546.15,126.93 546.40,123.19 546.80,120.90 C547.20,118.61 547.42,115.22 548.10,116.60 C548.78,117.98 549.90,125.30 550.70,128.80 C551.50,132.30 552.10,135.32 552.70,136.60 C553.30,137.88 553.64,135.77 554.15,136.12 C554.66,136.47 555.09,137.91 555.60,138.60 C556.11,139.29 556.54,139.72 557.05,140.05 C557.56,140.38 557.98,140.83 558.50,140.50 C559.02,140.17 559.48,138.50 560.00,138.15 C560.52,137.80 560.98,138.13 561.50,138.50 C562.02,138.87 562.44,139.90 562.95,140.25 C563.46,140.60 563.91,140.50 564.40,140.50 C564.89,140.50 565.27,140.01 565.73,140.23 C566.20,140.45 566.60,141.52 567.07,141.74 C567.53,141.96 568.00,142.79 568.40,141.50 C568.80,140.21 569.02,136.60 569.35,134.38 C569.68,132.15 569.61,132.26 570.30,128.80 C570.99,125.34 572.41,115.07 573.30,114.60 C574.19,114.13 574.56,122.18 575.40,126.10 C576.24,130.02 577.39,134.16 578.10,137.00 C578.81,139.84 578.98,140.94 579.45,142.36 C579.92,143.77 580.33,144.87 580.80,145.10 C581.27,145.33 581.68,143.94 582.15,143.66 C582.62,143.38 583.02,143.09 583.50,143.50 C583.98,143.91 584.41,145.50 584.90,146.01 C585.39,146.52 585.82,146.28 586.30,146.40 C586.78,146.52 587.18,146.19 587.65,146.68 C588.12,147.17 588.53,148.89 589.00,149.20 C589.47,149.51 589.88,149.00 590.35,148.44 C590.82,147.88 591.23,146.69 591.70,146.00 C592.17,145.31 592.58,144.68 593.05,144.52 C593.52,144.37 593.93,145.86 594.40,145.10 C594.87,144.34 595.28,142.07 595.75,140.17 C596.22,138.26 596.39,137.13 597.10,134.20 C597.81,131.27 598.85,122.91 599.80,123.40 C600.75,123.89 601.54,132.01 602.50,137.00 C603.46,141.99 604.58,149.32 605.30,151.90 C606.02,154.48 606.17,151.43 606.63,151.72 C607.10,152.01 607.50,153.31 607.97,153.57 C608.43,153.83 608.83,153.40 609.30,153.20 C609.77,153.00 610.19,152.00 610.67,152.40 C611.14,152.80 611.55,155.02 612.03,155.48 C612.51,155.93 612.92,155.11 613.40,155.00 C613.88,154.89 614.29,154.34 614.77,154.83 C615.25,155.32 615.65,157.38 616.13,157.81 C616.61,158.24 617.03,157.51 617.50,157.30 C617.97,157.09 618.37,156.31 618.83,156.62 C619.30,156.93 619.70,158.74 620.17,159.08 C620.63,159.43 621.03,159.66 621.50,158.60 C621.97,157.54 622.38,154.43 622.85,153.01 C623.32,151.59 623.72,151.36 624.20,150.50 C624.68,149.64 625.11,149.45 625.60,148.12 C626.09,146.79 626.52,143.06 627.00,142.90 C627.48,142.74 627.88,145.40 628.35,147.20 C628.82,149.00 629.23,151.21 629.70,153.20 C630.17,155.19 630.58,157.13 631.05,158.56 C631.52,160.00 631.93,161.43 632.40,161.40 C632.87,161.37 633.27,158.72 633.73,158.36 C634.20,158.01 634.60,159.81 635.07,159.38 C635.53,158.94 635.93,156.44 636.40,155.90 C636.87,155.36 637.29,155.47 637.77,156.27 C638.25,157.07 638.65,159.57 639.13,160.47 C639.61,161.37 639.97,161.79 640.50,161.40 C641.03,161.01 641.57,158.71 642.15,158.22 C642.73,157.73 643.27,156.63 643.80,158.60 C644.32,160.57 644.68,165.92 645.15,169.49 C645.62,173.06 645.98,180.91 646.50,179.00 C647.02,177.09 647.53,162.47 648.10,158.60 C648.67,154.73 649.17,157.11 649.75,156.88 C650.33,156.66 650.88,156.73 651.40,157.30 C651.92,157.87 652.27,159.81 652.73,160.16 C653.20,160.51 653.60,159.08 654.07,159.30 C654.53,159.52 654.93,160.44 655.40,161.40 C655.87,162.36 656.29,164.11 656.77,164.79 C657.25,165.47 657.65,164.70 658.13,165.28 C658.61,165.86 659.02,167.92 659.50,168.10 C659.98,168.28 660.39,167.69 660.87,166.32 C661.35,164.94 661.75,161.61 662.23,160.26 C662.71,158.91 663.12,157.95 663.60,158.60 C664.08,159.25 664.48,162.53 664.95,163.96 C665.42,165.40 665.82,166.75 666.30,166.80 C666.78,166.85 667.19,164.39 667.67,164.22 C668.14,164.06 668.55,165.91 669.03,165.87 C669.51,165.83 669.93,164.41 670.40,164.00 C670.87,163.59 671.27,162.97 671.73,163.52 C672.20,164.07 672.60,166.58 673.07,167.16 C673.53,167.73 673.93,167.40 674.40,166.80 C674.87,166.20 675.29,164.16 675.77,163.73 C676.25,163.29 676.65,164.72 677.13,164.31 C677.61,163.91 678.09,162.16 678.50,161.40 C678.91,160.64 679.33,160.25 679.50,160.00" fill="none" stroke="#2181c4" stroke-width="1.15" stroke-linejoin="round" clip-path="url(#cb)"/>
<polyline points="502.60,112.90 573.20,112.90 647.30,151.90" fill="none" stroke="#141414" stroke-width="2.0" stroke-dasharray="6,2.1" stroke-linejoin="miter"/>
<polyline points="498.60,165.70 565.50,166.50 650.00,206.10" fill="none" stroke="#141414" stroke-width="2.0" stroke-dasharray="6,2.1" stroke-linejoin="miter"/>
<text x="583.00" y="105.00" font-size="11" fill="#9e2329" letter-spacing="0.35">2nd <tspan font-style="italic" letter-spacing="-0.4">E</tspan><tspan font-size="8" dx="-1.3" dy="4.0" letter-spacing="0">c</tspan></text>
<text x="521.60" y="207.00" font-size="11" fill="#9e2329" letter-spacing="0.35">2nd <tspan font-style="italic" letter-spacing="-0.4">E</tspan><tspan font-size="8" dx="-1.3" dy="4.0" letter-spacing="0">c</tspan></text>
<text x="422.5" y="29.6" font-size="10.5" fill="#303030" letter-spacing="0.18"><tspan font-style="italic">I</tspan> = 3.9 × 10<tspan font-size="6.93" dy="-4.2">13</tspan><tspan dy="4.2"> W cm</tspan><tspan font-size="6.93" dy="-4.2">-2</tspan></text>
<line x1="593.8" y1="23" x2="603" y2="23" stroke="#2181c4" stroke-width="1.3"/>
<line x1="593.8" y1="38" x2="603" y2="38" stroke="#e35d2f" stroke-width="1.3"/>
<text x="608.40" y="26.10" font-size="10.5" fill="#303030" letter-spacing="0.27"><tspan font-style="italic">λ</tspan> = 1,200 nm</text>
<text x="608.40" y="41.40" font-size="10.5" fill="#303030" letter-spacing="0.27"><tspan font-style="italic">λ</tspan> = 1,800 nm</text>
<rect x="37.6" y="271.4" width="292.79999999999995" height="206.40000000000003" fill="none" stroke="#707070" stroke-width="1"/>
<text x="0.00" y="274.10" font-size="15.5" text-anchor="start" fill="#000" font-weight="bold" font-style="normal" >c</text>
<line x1="45.64" y1="477.8" x2="45.64" y2="474.8" stroke="#707070" stroke-width="1"/>
<text x="45.64" y="490.10" font-size="9.3" text-anchor="middle" fill="#303030" font-weight="normal" font-style="normal" >5</text>
<line x1="78.19" y1="477.8" x2="78.19" y2="474.8" stroke="#707070" stroke-width="1"/>
<text x="78.19" y="490.10" font-size="9.3" text-anchor="middle" fill="#303030" font-weight="normal" font-style="normal" >9</text>
<line x1="110.75" y1="477.8" x2="110.75" y2="474.8" stroke="#707070" stroke-width="1"/>
<text x="110.75" y="490.10" font-size="9.3" text-anchor="middle" fill="#303030" font-weight="normal" font-style="normal" >13</text>
<line x1="143.31" y1="477.8" x2="143.31" y2="474.8" stroke="#707070" stroke-width="1"/>
<text x="143.31" y="490.10" font-size="9.3" text-anchor="middle" fill="#303030" font-weight="normal" font-style="normal" >17</text>
<line x1="175.86" y1="477.8" x2="175.86" y2="474.8" stroke="#707070" stroke-width="1"/>
<text x="175.86" y="490.10" font-size="9.3" text-anchor="middle" fill="#303030" font-weight="normal" font-style="normal" >21</text>
<line x1="208.42" y1="477.8" x2="208.42" y2="474.8" stroke="#707070" stroke-width="1"/>
<text x="208.42" y="490.10" font-size="9.3" text-anchor="middle" fill="#303030" font-weight="normal" font-style="normal" >25</text>
<line x1="240.97" y1="477.8" x2="240.97" y2="474.8" stroke="#707070" stroke-width="1"/>
<text x="240.97" y="490.10" font-size="9.3" text-anchor="middle" fill="#303030" font-weight="normal" font-style="normal" >29</text>
<line x1="273.53" y1="477.8" x2="273.53" y2="474.8" stroke="#707070" stroke-width="1"/>
<text x="273.53" y="490.10" font-size="9.3" text-anchor="middle" fill="#303030" font-weight="normal" font-style="normal" >33</text>
<line x1="306.09" y1="477.8" x2="306.09" y2="474.8" stroke="#707070" stroke-width="1"/>
<text x="306.09" y="490.10" font-size="9.3" text-anchor="middle" fill="#303030" font-weight="normal" font-style="normal" >37</text>
<line x1="37.6" y1="300.80" x2="40.6" y2="300.80" stroke="#707070" stroke-width="1"/>
<text transform="translate(32.30,303.80) scale(0.86,1)" x="0" y="0" font-size="10.0" text-anchor="end" fill="#303030">10<tspan font-size="7" dx="0.4" dy="-5.2">4</tspan></text>
<line x1="37.6" y1="346.80" x2="40.6" y2="346.80" stroke="#707070" stroke-width="1"/>
<text transform="translate(32.30,349.80) scale(0.86,1)" x="0" y="0" font-size="10.0" text-anchor="end" fill="#303030">10<tspan font-size="7" dx="0.4" dy="-5.2">2</tspan></text>
<line x1="37.6" y1="392.80" x2="40.6" y2="392.80" stroke="#707070" stroke-width="1"/>
<text transform="translate(32.30,395.80) scale(0.86,1)" x="0" y="0" font-size="10.0" text-anchor="end" fill="#303030">10<tspan font-size="7" dx="0.4" dy="-5.2">0</tspan></text>
<line x1="37.6" y1="438.80" x2="40.6" y2="438.80" stroke="#707070" stroke-width="1"/>
<text transform="translate(32.30,441.80) scale(0.86,1)" x="0" y="0" font-size="10.0" text-anchor="end" fill="#303030">10<tspan font-size="7" dx="0.4" dy="-5.2">-2</tspan></text>
<text x="184.10" y="507.10" font-size="10.3" text-anchor="middle" fill="#303030" font-weight="normal" font-style="normal" letter-spacing="0.32">Energy (eV)</text>
<text x="0" y="0" font-size="10.3" letter-spacing="0.2" text-anchor="middle" fill="#303030" transform="translate(8.9,370) rotate(-90)">Scaled norm. yield</text>
<line x1="150.2" y1="323.6" x2="150.2" y2="361" stroke="#b3141c" stroke-width="2.0" stroke-dasharray="9,4.2"/>
<line x1="172.2" y1="374" x2="172.2" y2="466.5" stroke="#b3141c" stroke-width="2.0" stroke-dasharray="9,4.2"/>
<path d="M37.60,365.90 C37.83,365.55 38.32,361.50 38.90,363.90 C39.48,366.30 40.20,373.41 40.90,379.60 C41.60,385.80 42.22,393.79 42.90,399.30 C43.58,404.81 44.01,403.87 44.80,411.10 C45.59,418.33 46.37,438.36 47.40,440.60 C48.43,442.84 49.67,422.71 50.70,423.90 C51.73,425.09 52.44,447.92 53.30,447.40 C54.16,446.88 54.67,427.94 55.60,420.90 C56.53,413.86 57.57,414.08 58.60,407.20 C59.63,400.32 60.64,385.05 61.50,381.60 C62.36,378.15 62.80,383.37 63.50,387.50 C64.20,391.63 64.82,402.28 65.50,405.20 C66.18,408.12 66.54,402.13 67.40,404.20 C68.26,406.26 69.54,413.80 70.40,417.00 C71.26,420.20 71.62,422.17 72.30,422.50 C72.98,422.83 73.60,420.89 74.30,418.90 C75.00,416.90 75.62,413.85 76.30,411.10 C76.98,408.35 77.52,406.72 78.20,403.20 C78.88,399.68 79.33,393.22 80.20,391.00 C81.08,388.78 82.41,390.83 83.20,390.50 C83.99,390.17 84.19,387.91 84.70,389.10 C85.21,390.29 85.61,394.13 86.10,397.30 C86.59,400.47 86.99,406.17 87.50,407.20 C88.01,408.23 88.39,402.19 89.00,403.20 C89.61,404.21 90.12,414.03 91.00,413.00 C91.88,411.97 93.12,399.40 94.00,397.30 C94.88,395.20 95.21,397.73 96.00,401.00 C96.79,404.27 97.38,416.30 98.50,416.00 C99.62,415.70 101.37,401.37 102.40,399.30 C103.43,397.24 103.65,404.72 104.40,404.20 C105.15,403.68 105.77,394.76 106.70,396.30 C107.63,397.84 108.67,407.66 109.70,413.00 C110.73,418.34 111.57,426.28 112.60,426.80 C113.63,427.32 114.57,416.00 115.60,416.00 C116.63,416.00 117.13,423.19 118.50,426.80 C119.87,430.41 121.69,441.13 123.40,436.60 C125.12,432.07 127.09,406.04 128.30,400.90 C129.51,395.75 129.50,399.92 130.30,407.20 C131.11,414.48 131.92,437.67 132.90,442.50 C133.88,447.33 134.87,437.34 135.90,434.80 C136.93,432.26 137.94,428.00 138.80,428.00 C139.66,428.00 140.10,434.64 140.80,434.80 C141.50,434.96 141.94,431.98 142.80,428.90 C143.66,425.82 144.67,422.01 145.70,417.20 C146.73,412.39 147.84,405.53 148.70,401.40 C149.56,397.27 149.74,392.22 150.60,393.60 C151.46,394.98 152.74,402.09 153.60,409.30 C154.46,416.51 154.82,429.64 155.50,434.80 C156.18,439.96 156.80,438.62 157.50,438.80 C158.20,438.98 158.82,435.12 159.50,435.80 C160.18,436.48 160.54,440.13 161.40,442.70 C162.26,445.27 163.54,452.92 164.40,450.50 C165.26,448.08 165.44,433.71 166.30,428.90 C167.16,424.09 168.43,427.11 169.30,423.00 C170.18,418.89 170.62,410.54 171.30,405.40 C171.98,400.25 172.52,392.92 173.20,393.60 C173.88,394.28 174.34,403.12 175.20,409.30 C176.06,415.48 177.24,422.70 178.10,428.90 C178.96,435.09 179.24,438.50 180.10,444.70 C180.96,450.89 182.14,463.62 183.00,464.30 C183.86,464.98 184.30,451.70 185.00,448.60 C185.70,445.50 186.32,444.89 187.00,446.60 C187.68,448.31 188.04,460.46 188.90,458.40 C189.76,456.33 190.87,443.74 191.90,434.80 C192.93,425.86 193.94,412.29 194.80,407.30 C195.66,402.31 195.94,402.52 196.80,406.30 C197.66,410.08 198.84,419.43 199.70,428.90 C200.56,438.37 201.02,454.55 201.70,460.40 C202.38,466.25 202.92,462.65 203.60,462.30 C204.28,461.95 204.72,459.76 205.60,458.40 C206.47,457.03 207.72,453.82 208.60,454.50 C209.47,455.18 209.92,461.27 210.60,462.30 C211.28,463.33 211.82,464.86 212.50,460.40 C213.18,455.94 213.64,444.88 214.50,436.80 C215.36,428.72 216.37,416.62 217.40,414.20 C218.43,411.78 219.54,416.30 220.40,423.00 C221.26,429.70 221.62,444.27 222.30,452.50 C222.98,460.73 223.83,465.19 224.30,470.00 C224.77,474.81 224.37,480.12 225.00,480.00 C225.63,479.88 227.03,469.30 227.90,469.30 C228.78,469.30 228.62,478.13 230.00,480.00 C231.38,481.87 234.28,488.23 235.80,480.00 C237.32,471.77 237.84,441.40 238.70,433.00 C239.56,424.60 239.82,428.22 240.70,432.00 C241.57,435.78 242.67,447.55 243.70,454.60 C244.73,461.65 245.74,467.86 246.60,472.30 C247.46,476.75 247.74,481.56 248.60,480.00 C249.46,478.44 250.47,464.92 251.50,463.40 C252.53,461.88 253.64,471.63 254.50,471.30 C255.36,470.97 255.54,465.45 256.40,461.50 C257.26,457.55 258.47,453.34 259.40,448.70 C260.33,444.06 260.84,435.18 261.70,435.00 C262.56,434.82 263.51,441.86 264.30,447.70 C265.09,453.54 265.52,465.81 266.20,468.40 C266.88,470.99 267.17,463.20 268.20,462.50 C269.23,461.80 271.07,461.34 272.10,464.40 C273.13,467.46 273.07,477.27 274.10,480.00 C275.13,482.73 276.63,484.80 278.00,480.00 C279.37,475.20 280.80,458.59 281.90,452.60 C283.00,446.62 283.43,445.45 284.30,445.80 C285.18,446.15 285.94,448.62 286.90,454.60 C287.86,460.59 289.00,476.95 289.80,480.00 C290.61,483.05 290.64,475.76 291.50,472.00 C292.36,468.24 293.69,457.10 294.70,458.50 C295.71,459.90 295.94,476.24 297.30,480.00 C298.67,483.76 301.06,483.06 302.50,480.00 C303.94,476.94 304.47,465.06 305.50,462.50 C306.53,459.94 307.54,462.34 308.40,465.40 C309.26,468.46 309.33,477.44 310.40,480.00 C311.47,482.56 313.29,482.38 314.50,480.00 C315.71,477.62 316.30,466.40 317.30,466.40 C318.30,466.40 318.50,477.62 320.20,480.00 C321.90,482.38 325.29,481.70 327.00,480.00 C328.71,478.30 329.48,472.00 330.00,470.30" fill="none" stroke="#e35d2f" stroke-width="1.15" stroke-linejoin="round" clip-path="url(#cc)"/>
<path d="M37.60,310.50 C37.83,310.32 38.32,308.49 38.90,309.50 C39.48,310.51 40.20,314.08 40.90,316.30 C41.60,318.52 42.22,319.78 42.90,322.20 C43.58,324.62 44.12,329.23 44.80,330.10 C45.48,330.98 46.20,326.69 46.80,327.20 C47.39,327.71 47.59,327.86 48.20,333.00 C48.81,338.14 49.51,355.57 50.30,356.60 C51.09,357.63 51.77,346.46 52.70,338.90 C53.63,331.34 54.57,320.96 55.60,313.40 C56.63,305.84 57.64,300.23 58.60,295.70 C59.56,291.17 60.24,286.12 61.10,287.50 C61.96,288.88 62.55,298.72 63.50,303.60 C64.44,308.48 65.47,310.25 66.50,315.40 C67.53,320.54 68.39,326.47 69.40,333.00 C70.42,339.53 71.44,349.60 72.30,352.70 C73.16,355.80 73.60,351.38 74.30,350.70 C75.00,350.02 75.51,352.91 76.30,348.80 C77.09,344.69 77.94,331.50 78.80,327.20 C79.66,322.89 80.27,326.26 81.20,324.20 C82.13,322.13 83.24,315.22 84.10,315.40 C84.96,315.57 85.40,320.06 86.10,325.20 C86.80,330.34 87.29,339.53 88.10,344.80 C88.91,350.07 89.93,352.12 90.70,355.30 C91.47,358.49 91.89,360.83 92.50,363.00 C93.11,365.17 93.43,367.70 94.20,367.70 C94.97,367.70 95.97,365.15 96.90,363.00 C97.83,360.85 98.73,356.89 99.50,355.40 C100.27,353.91 100.53,354.97 101.30,354.50 C102.07,354.03 103.04,355.48 103.90,352.70 C104.76,349.92 105.27,338.13 106.20,338.60 C107.13,339.07 108.36,351.53 109.20,355.40 C110.04,359.27 110.37,357.62 111.00,360.70 C111.63,363.78 112.19,370.67 112.80,373.00 C113.41,375.33 113.68,369.40 114.50,374.00 C115.32,378.60 116.57,397.31 117.50,399.30 C118.43,401.30 118.92,391.23 119.80,385.40 C120.67,379.57 121.62,370.80 122.50,366.00 C123.38,361.20 124.19,359.40 124.80,358.00 C125.41,356.60 125.32,360.31 126.00,358.00 C126.68,355.69 127.77,344.69 128.70,344.80 C129.63,344.91 130.51,348.24 131.30,358.60 C132.09,368.96 132.39,398.50 133.20,404.00 C134.00,409.50 135.08,394.73 135.90,390.00 C136.72,385.27 137.22,379.68 137.90,377.00 C138.58,374.32 139.12,375.80 139.80,374.70 C140.48,373.60 141.10,371.73 141.80,370.70 C142.50,369.67 143.12,368.62 143.80,368.80 C144.48,368.98 145.02,372.40 145.70,371.70 C146.38,371.00 147.02,368.75 147.70,364.80 C148.38,360.85 149.09,352.46 149.60,349.10 C150.11,345.74 150.07,344.57 150.60,345.60 C151.12,346.63 151.90,350.94 152.60,355.00 C153.30,359.06 153.74,364.43 154.60,368.80 C155.46,373.18 156.64,376.64 157.50,380.00 C158.36,383.36 158.97,385.97 159.50,388.00 C160.03,390.03 160.17,391.25 160.50,391.60 C160.83,391.95 160.89,392.38 161.40,390.00 C161.91,387.62 162.70,380.52 163.40,378.00 C164.10,375.48 164.72,374.81 165.40,375.60 C166.08,376.39 166.44,383.87 167.30,382.50 C168.16,381.13 169.44,371.23 170.30,367.80 C171.16,364.37 171.52,361.69 172.20,362.90 C172.88,364.11 173.67,368.29 174.20,374.70 C174.72,381.11 174.85,395.72 175.20,399.50 C175.55,403.28 175.69,398.84 176.20,396.30 C176.71,393.76 177.24,387.06 178.10,385.00 C178.96,382.94 180.07,382.31 181.10,384.50 C182.13,386.69 183.14,393.04 184.00,397.50 C184.86,401.96 185.30,405.69 186.00,410.00 C186.70,414.31 187.32,423.94 188.00,422.10 C188.68,420.26 188.97,407.78 189.90,399.50 C190.83,391.22 192.27,377.69 193.30,374.80 C194.33,371.91 194.84,380.06 195.80,383.00 C196.76,385.94 197.77,388.71 198.80,391.60 C199.83,394.49 200.67,397.44 201.70,399.50 C202.73,401.56 203.49,401.69 204.70,403.40 C205.91,405.11 207.41,407.24 208.60,409.30 C209.79,411.37 210.29,416.91 211.50,415.20 C212.71,413.49 214.36,404.68 215.50,399.50 C216.64,394.32 217.14,385.95 218.00,385.60 C218.86,385.25 219.65,392.67 220.40,397.50 C221.15,402.33 221.62,409.25 222.30,413.20 C222.98,417.15 223.48,418.00 224.30,420.10 C225.12,422.20 226.27,425.15 227.00,425.20 C227.73,425.25 227.94,421.93 228.45,420.38 C228.96,418.82 229.42,417.01 229.90,416.30 C230.38,415.59 230.75,416.46 231.20,416.30 C231.66,416.15 232.04,415.57 232.50,415.40 C232.96,415.22 233.40,414.62 233.80,415.30 C234.20,415.98 234.45,418.09 234.80,419.29 C235.15,420.50 235.45,421.21 235.80,422.20 C236.15,423.19 236.45,423.93 236.80,424.97 C237.15,426.00 237.46,428.68 237.80,428.10 C238.14,427.52 238.42,424.04 238.75,421.64 C239.08,419.24 239.27,415.60 239.70,414.40 C240.13,413.20 240.67,414.46 241.20,414.79 C241.72,415.13 242.18,415.74 242.70,416.30 C243.22,416.86 243.64,417.49 244.15,418.01 C244.66,418.54 245.08,418.98 245.60,419.30 C246.12,419.62 246.57,419.50 247.10,419.84 C247.62,420.17 248.08,420.62 248.60,421.20 C249.12,421.78 249.54,422.61 250.05,423.14 C250.56,423.66 251.07,424.31 251.50,424.20 C251.93,424.09 252.15,423.03 252.50,422.50 C252.85,421.98 253.16,420.76 253.50,421.20 C253.84,421.64 254.12,423.78 254.45,424.99 C254.78,426.20 255.06,428.41 255.40,428.10 C255.74,427.79 256.05,424.76 256.40,423.22 C256.75,421.68 256.97,420.35 257.40,419.30 C257.83,418.25 258.34,418.08 258.85,417.22 C259.36,416.36 259.78,414.81 260.30,414.40 C260.82,413.99 261.28,414.53 261.80,414.87 C262.32,415.20 262.82,414.97 263.30,416.30 C263.78,417.63 264.11,420.38 264.55,422.45 C264.99,424.51 265.37,427.50 265.80,428.10 C266.23,428.70 266.58,426.55 267.00,425.87 C267.42,425.19 267.76,424.39 268.20,424.20 C268.64,424.01 269.05,424.71 269.50,424.76 C269.95,424.81 270.35,424.40 270.80,424.47 C271.25,424.55 271.64,424.86 272.10,425.20 C272.56,425.54 272.97,426.25 273.43,426.40 C273.90,426.55 274.30,425.92 274.77,426.04 C275.23,426.16 275.61,426.99 276.10,427.10 C276.59,427.21 277.04,426.99 277.55,426.66 C278.06,426.32 278.49,425.35 279.00,425.20 C279.51,425.05 279.94,425.48 280.45,425.81 C280.96,426.14 281.42,427.30 281.90,427.10 C282.38,426.90 282.75,425.68 283.20,424.64 C283.65,423.61 284.06,421.33 284.50,421.20 C284.94,421.07 285.28,422.89 285.70,423.93 C286.12,424.96 286.44,426.32 286.90,427.10 C287.36,427.88 287.84,428.05 288.35,428.40 C288.86,428.75 289.29,429.29 289.80,429.10 C290.31,428.91 290.74,427.79 291.25,427.34 C291.76,426.88 292.23,426.49 292.70,426.50 C293.17,426.51 293.50,427.31 293.93,427.38 C294.35,427.46 294.72,426.85 295.15,426.94 C295.58,427.04 295.95,427.71 296.38,427.92 C296.80,428.12 297.13,428.16 297.60,428.10 C298.07,428.04 298.56,427.60 299.08,427.56 C299.59,427.52 300.03,427.96 300.55,427.87 C301.07,427.78 301.51,427.19 302.02,427.05 C302.54,426.92 302.94,426.83 303.50,427.10 C304.06,427.37 304.64,428.24 305.25,428.57 C305.86,428.90 306.44,428.97 307.00,429.00 C307.56,429.03 307.95,428.66 308.47,428.77 C308.98,428.88 309.42,429.56 309.93,429.62 C310.45,429.68 310.92,429.28 311.40,429.10 C311.88,428.92 312.25,428.56 312.70,428.62 C313.15,428.68 313.55,429.38 314.00,429.44 C314.45,429.50 314.84,428.91 315.30,428.96 C315.75,429.02 316.14,429.70 316.60,429.75 C317.05,429.80 317.44,429.29 317.90,429.24 C318.35,429.20 318.72,429.37 319.20,429.50 C319.68,429.63 320.14,430.05 320.65,430.01 C321.16,429.96 321.59,429.21 322.10,429.24 C322.61,429.27 323.04,430.03 323.55,430.18 C324.06,430.33 324.53,430.16 325.00,430.10 C325.47,430.04 325.81,429.73 326.25,429.82 C326.69,429.91 327.06,430.58 327.50,430.63 C327.94,430.68 328.31,430.11 328.75,430.13 C329.19,430.14 329.78,430.60 330.00,430.70" fill="none" stroke="#2181c4" stroke-width="1.15" stroke-linejoin="round" clip-path="url(#cc)"/>
<polyline points="81.20,343.90 150.40,344.10 240.30,394.70" fill="none" stroke="#141414" stroke-width="2.0" stroke-dasharray="6,2.5" stroke-linejoin="miter"/>
<polyline points="88.10,394.30 173.20,394.30 244.60,435.40" fill="none" stroke="#141414" stroke-width="2.0" stroke-dasharray="6,2.5" stroke-linejoin="miter"/>
<text x="157.50" y="330.10" font-size="11" fill="#9e2329" letter-spacing="0.35">2nd <tspan font-style="italic" letter-spacing="-0.4">E</tspan><tspan font-size="8" dx="-1.3" dy="4.0" letter-spacing="0">c</tspan></text>
<text x="130.00" y="465.90" font-size="11" fill="#9e2329" letter-spacing="0.35">2nd <tspan font-style="italic" letter-spacing="-0.4">E</tspan><tspan font-size="8" dx="-1.3" dy="4.0" letter-spacing="0">c</tspan></text>
<text x="74.30" y="292.20" font-size="10.5" fill="#303030" letter-spacing="0.5"><tspan font-style="italic">λ</tspan> = 900 nm</text>
<line x1="233.3" y1="284.9" x2="242.1" y2="284.9" stroke="#2181c4" stroke-width="1.3"/>
<line x1="233.3" y1="302.9" x2="242.1" y2="302.9" stroke="#e35d2f" stroke-width="1.3"/>
<text x="247.20" y="288.20" font-size="10.5" fill="#303030" text-anchor="start" letter-spacing="0.2">2 × 10<tspan font-size="6.93" dy="-4.2">13</tspan><tspan dy="4.2"> W cm</tspan><tspan font-size="6.93" dy="-4.2">-2</tspan></text>
<text x="246.60" y="306.20" font-size="10.5" fill="#303030" text-anchor="start" letter-spacing="0.3">10 × 10<tspan font-size="6.93" dy="-4.2">13</tspan><tspan dy="4.2"> W cm</tspan><tspan font-size="6.93" dy="-4.2">-2</tspan></text>
<rect x="389.5" y="269.5" width="292.0" height="207.5" fill="none" stroke="#707070" stroke-width="1"/>
<text x="351.30" y="274.00" font-size="15.5" text-anchor="start" fill="#000" font-weight="bold" font-style="normal" >d</text>
<line x1="397.32" y1="477.0" x2="397.32" y2="474.0" stroke="#707070" stroke-width="1"/>
<text x="397.32" y="489.00" font-size="9.3" text-anchor="middle" fill="#303030" font-weight="normal" font-style="normal" >5</text>
<line x1="429.80" y1="477.0" x2="429.80" y2="474.0" stroke="#707070" stroke-width="1"/>
<text x="429.80" y="489.00" font-size="9.3" text-anchor="middle" fill="#303030" font-weight="normal" font-style="normal" >9</text>
<line x1="462.28" y1="477.0" x2="462.28" y2="474.0" stroke="#707070" stroke-width="1"/>
<text x="462.28" y="489.00" font-size="9.3" text-anchor="middle" fill="#303030" font-weight="normal" font-style="normal" >13</text>
<line x1="494.76" y1="477.0" x2="494.76" y2="474.0" stroke="#707070" stroke-width="1"/>
<text x="494.76" y="489.00" font-size="9.3" text-anchor="middle" fill="#303030" font-weight="normal" font-style="normal" >17</text>
<line x1="527.24" y1="477.0" x2="527.24" y2="474.0" stroke="#707070" stroke-width="1"/>
<text x="527.24" y="489.00" font-size="9.3" text-anchor="middle" fill="#303030" font-weight="normal" font-style="normal" >21</text>
<line x1="559.72" y1="477.0" x2="559.72" y2="474.0" stroke="#707070" stroke-width="1"/>
<text x="559.72" y="489.00" font-size="9.3" text-anchor="middle" fill="#303030" font-weight="normal" font-style="normal" >25</text>
<line x1="592.20" y1="477.0" x2="592.20" y2="474.0" stroke="#707070" stroke-width="1"/>
<text x="592.20" y="489.00" font-size="9.3" text-anchor="middle" fill="#303030" font-weight="normal" font-style="normal" >29</text>
<line x1="624.68" y1="477.0" x2="624.68" y2="474.0" stroke="#707070" stroke-width="1"/>
<text x="624.68" y="489.00" font-size="9.3" text-anchor="middle" fill="#303030" font-weight="normal" font-style="normal" >33</text>
<line x1="657.16" y1="477.0" x2="657.16" y2="474.0" stroke="#707070" stroke-width="1"/>
<text x="657.16" y="489.00" font-size="9.3" text-anchor="middle" fill="#303030" font-weight="normal" font-style="normal" >37</text>
<line x1="389.5" y1="269.48" x2="392.5" y2="269.48" stroke="#707070" stroke-width="1"/>
<text transform="translate(384.20,274.28) scale(0.86,1)" x="0" y="0" font-size="10.0" text-anchor="end" fill="#303030">10<tspan font-size="7" dx="0.4" dy="-5.2">4</tspan></text>
<line x1="389.5" y1="321.34" x2="392.5" y2="321.34" stroke="#707070" stroke-width="1"/>
<text transform="translate(384.20,324.34) scale(0.86,1)" x="0" y="0" font-size="10.0" text-anchor="end" fill="#303030">10<tspan font-size="7" dx="0.4" dy="-5.2">2</tspan></text>
<line x1="389.5" y1="373.20" x2="392.5" y2="373.20" stroke="#707070" stroke-width="1"/>
<text transform="translate(384.20,376.20) scale(0.86,1)" x="0" y="0" font-size="10.0" text-anchor="end" fill="#303030">10<tspan font-size="7" dx="0.4" dy="-5.2">0</tspan></text>
<line x1="389.5" y1="425.06" x2="392.5" y2="425.06" stroke="#707070" stroke-width="1"/>
<text transform="translate(384.20,428.06) scale(0.86,1)" x="0" y="0" font-size="10.0" text-anchor="end" fill="#303030">10<tspan font-size="7" dx="0.4" dy="-5.2">-2</tspan></text>
<line x1="389.5" y1="476.92" x2="392.5" y2="476.92" stroke="#707070" stroke-width="1"/>
<text transform="translate(384.20,479.92) scale(0.86,1)" x="0" y="0" font-size="10.0" text-anchor="end" fill="#303030">10<tspan font-size="7" dx="0.4" dy="-5.2">-4</tspan></text>
<text x="535.70" y="505.40" font-size="10.3" text-anchor="middle" fill="#303030" font-weight="normal" font-style="normal" letter-spacing="0.32">Energy (eV)</text>
<text x="0" y="0" font-size="10.3" letter-spacing="0.2" text-anchor="middle" fill="#303030" transform="translate(360.7,366.5) rotate(-90)">Scaled norm. yield</text>
<line x1="524.3" y1="316.2" x2="524.3" y2="354.6" stroke="#b3141c" stroke-width="2.0" stroke-dasharray="8,5.5"/>
<line x1="518.9" y1="369" x2="518.9" y2="470.5" stroke="#b3141c" stroke-width="2.0" stroke-dasharray="10,4.5"/>
<path d="M389.80,386.00 C390.10,388.49 390.89,398.34 391.50,400.20 C392.11,402.06 392.67,398.46 393.30,396.60 C393.93,394.75 394.49,392.54 395.10,389.60 C395.71,386.66 396.24,384.30 396.80,379.80 C397.36,375.30 397.83,363.43 398.30,363.90 C398.77,364.37 398.98,379.88 399.50,382.50 C400.02,385.12 400.69,375.64 401.30,378.90 C401.91,382.15 402.39,401.71 403.00,401.10 C403.61,400.49 404.01,383.76 404.80,375.40 C405.59,367.03 406.73,353.30 407.50,353.30 C408.27,353.30 408.68,371.43 409.20,375.40 C409.72,379.37 410.03,371.98 410.50,376.00 C410.97,380.02 411.20,399.27 411.90,398.40 C412.60,397.52 413.57,372.24 414.50,371.00 C415.43,369.76 416.12,391.62 417.20,391.30 C418.28,390.99 419.62,368.57 420.70,369.20 C421.78,369.83 422.31,395.06 423.40,394.90 C424.48,394.74 425.97,367.69 426.90,368.30 C427.83,368.91 428.07,398.08 428.70,398.40 C429.33,398.71 429.73,373.81 430.50,370.10 C431.27,366.39 432.17,373.18 433.10,377.20 C434.03,381.22 434.87,389.39 435.80,393.10 C436.73,396.81 437.63,394.69 438.40,398.40 C439.17,402.11 439.57,416.47 440.20,414.30 C440.83,412.13 441.28,387.54 442.00,386.00 C442.72,384.46 443.53,403.01 444.30,405.50 C445.07,407.99 445.56,398.34 446.40,400.20 C447.24,402.06 448.17,417.66 449.10,416.10 C450.03,414.54 450.77,389.44 451.70,391.30 C452.63,393.16 453.31,425.46 454.40,426.70 C455.48,427.94 456.81,399.33 457.90,398.40 C458.99,397.47 459.62,424.41 460.60,421.40 C461.58,418.39 462.68,385.75 463.50,381.20 C464.32,376.65 464.83,389.82 465.30,395.40 C465.77,400.98 465.83,406.91 466.20,413.10 C466.57,419.30 466.94,431.41 467.40,430.80 C467.85,430.19 468.24,411.46 468.80,409.60 C469.36,407.75 469.92,415.25 470.60,420.20 C471.28,425.15 471.93,440.07 472.70,437.90 C473.47,435.73 474.28,410.90 475.00,407.80 C475.72,404.70 476.17,417.10 476.80,420.20 C477.43,423.30 477.97,423.64 478.60,425.50 C479.23,427.36 479.79,431.12 480.40,430.80 C481.01,430.49 481.58,423.09 482.10,423.70 C482.62,424.31 482.68,441.74 483.40,434.30 C484.12,426.86 485.34,385.84 486.20,381.20 C487.06,376.56 487.46,400.98 488.30,407.80 C489.14,414.62 490.23,419.27 491.00,420.20 C491.77,421.13 492.09,415.59 492.70,413.10 C493.31,410.62 493.78,410.18 494.50,406.00 C495.22,401.82 496.03,388.27 496.80,389.20 C497.57,390.13 498.06,406.80 498.90,411.30 C499.74,415.80 500.67,412.41 501.60,414.90 C502.53,417.38 503.36,426.13 504.20,425.50 C505.04,424.87 505.61,416.10 506.40,411.30 C507.19,406.50 507.69,397.02 508.70,398.10 C509.71,399.19 511.12,416.57 512.20,417.50 C513.29,418.43 514.06,402.93 514.90,403.40 C515.74,403.87 516.23,424.08 517.00,420.20 C517.77,416.31 518.58,384.00 519.30,381.20 C520.02,378.40 520.38,396.45 521.10,404.20 C521.82,411.95 522.47,422.09 523.40,425.50 C524.33,428.91 525.58,426.19 526.40,423.70 C527.22,421.21 527.33,417.02 528.10,411.30 C528.87,405.58 529.85,390.07 530.80,391.00 C531.75,391.93 532.73,409.64 533.50,416.60 C534.27,423.56 534.75,425.83 535.20,430.80 C535.66,435.77 535.52,445.02 536.10,445.00 C536.68,444.98 537.76,434.74 538.50,430.70 C539.24,426.66 539.67,425.31 540.30,421.90 C540.93,418.49 541.49,411.20 542.10,411.20 C542.71,411.20 543.34,421.58 543.80,421.90 C544.25,422.21 544.07,410.22 544.70,413.00 C545.33,415.78 546.61,427.58 547.40,437.80 C548.19,448.02 548.43,473.88 549.20,471.40 C549.97,468.91 551.13,431.19 551.80,423.60 C552.46,416.01 552.53,423.66 553.00,428.00 C553.47,432.34 553.94,448.40 554.50,448.40 C555.06,448.40 555.59,427.69 556.20,428.00 C556.81,428.31 557.37,449.41 558.00,450.20 C558.63,450.99 559.19,431.57 559.80,432.50 C560.41,433.43 560.89,458.75 561.50,455.50 C562.11,452.25 562.67,417.63 563.30,413.90 C563.93,410.17 564.54,427.24 565.10,434.20 C565.66,441.16 566.04,452.14 566.50,453.70 C566.96,455.26 566.86,441.70 567.70,443.10 C568.54,444.50 570.35,463.26 571.30,461.70 C572.25,460.14 572.49,444.12 573.10,434.20 C573.71,424.28 574.03,403.76 574.80,405.00 C575.57,406.24 576.57,429.05 577.50,441.30 C578.43,453.55 579.17,472.51 580.10,475.00 C581.03,477.49 581.71,467.28 582.80,455.50 C583.88,443.72 585.21,407.38 586.30,407.70 C587.38,408.01 587.91,447.39 589.00,457.30 C590.09,467.21 591.05,472.05 592.50,464.30 C593.95,456.55 596.06,415.15 597.30,413.00 C598.54,410.85 598.87,444.48 599.60,452.00 C600.34,459.52 600.73,451.98 601.50,456.00 C602.27,460.02 603.07,477.17 604.00,475.00 C604.93,472.83 605.91,452.72 606.80,443.60 C607.69,434.48 608.38,420.43 609.10,422.90 C609.82,425.37 610.27,453.57 610.90,457.70 C611.53,461.83 612.19,445.89 612.70,446.50 C613.21,447.11 613.29,455.69 613.80,461.20 C614.31,466.71 614.69,475.06 615.60,478.00 C616.51,480.94 618.07,483.93 619.00,478.00 C619.93,472.07 620.25,447.25 620.90,444.10 C621.55,440.95 622.19,459.26 622.70,460.00 C623.21,460.74 623.40,448.65 623.80,448.30 C624.20,447.95 624.58,457.28 625.00,458.00 C625.42,458.72 625.68,449.77 626.20,452.40 C626.73,455.02 627.39,470.43 628.00,473.00 C628.61,475.57 629.19,468.45 629.70,467.10 C630.21,465.75 630.27,466.94 630.90,465.30 C631.53,463.66 632.58,459.96 633.30,457.70 C634.02,455.44 634.49,450.96 635.00,452.40 C635.51,453.83 635.78,466.21 636.20,465.90 C636.62,465.58 636.88,449.36 637.40,450.60 C637.92,451.84 638.48,470.94 639.20,473.00 C639.92,475.06 640.68,463.83 641.50,462.40 C642.32,460.96 643.11,465.83 643.90,464.80 C644.69,463.77 645.39,454.86 646.00,456.50 C646.61,458.14 646.91,473.68 647.40,474.20 C647.89,474.72 648.19,458.83 648.80,459.50 C649.41,460.17 650.11,479.24 650.90,478.00 C651.69,476.76 652.48,452.85 653.30,452.40 C654.12,451.94 654.88,472.93 655.60,475.40 C656.32,477.87 656.77,466.05 657.40,466.50 C658.03,466.95 658.57,477.07 659.20,478.00 C659.83,478.93 660.48,471.80 661.00,471.80 C661.52,471.80 661.59,481.71 662.20,478.00 C662.81,474.29 663.70,450.60 664.50,450.60 C665.30,450.60 665.26,473.20 666.80,478.00 C668.34,482.80 671.79,480.94 673.30,478.00 C674.80,475.06 674.68,461.20 675.40,461.20 C676.12,461.20 676.42,475.06 677.40,478.00 C678.38,480.94 680.37,478.00 681.00,478.00" fill="none" stroke="#e35d2f" stroke-width="1.15" stroke-linejoin="round" clip-path="url(#cd)"/>
<path d="M389.80,292.40 C390.10,292.33 390.89,289.53 391.50,292.00 C392.11,294.47 392.67,299.92 393.30,306.50 C393.93,313.08 394.33,321.24 395.10,329.60 C395.87,337.97 397.09,345.67 397.70,354.30 C398.31,362.93 397.97,377.38 398.60,378.90 C399.23,380.42 400.37,370.09 401.30,363.00 C402.23,355.91 403.13,343.47 403.90,338.40 C404.67,333.32 405.23,334.31 405.70,334.00 C406.17,333.69 406.13,339.24 406.60,336.60 C407.07,333.96 407.63,324.46 408.40,318.90 C409.17,313.33 410.07,309.19 411.00,304.80 C411.93,300.41 412.93,294.43 413.70,293.80 C414.47,293.17 414.79,295.25 415.40,301.20 C416.01,307.15 416.57,322.53 417.20,327.80 C417.83,333.07 418.23,326.96 419.00,331.30 C419.77,335.64 420.83,349.50 421.60,352.60 C422.37,355.70 422.77,349.93 423.40,349.00 C424.03,348.07 424.43,350.69 425.20,347.30 C425.97,343.91 426.72,335.95 427.80,329.60 C428.88,323.25 430.47,313.64 431.40,311.00 C432.33,308.36 432.33,316.67 433.10,314.50 C433.87,312.33 434.87,299.06 435.80,298.60 C436.73,298.15 437.79,306.95 438.40,311.90 C439.01,316.85 438.83,323.80 439.30,326.90 C439.77,330.00 440.47,324.18 441.10,329.60 C441.73,335.03 442.22,354.19 442.90,357.90 C443.58,361.61 444.07,350.50 445.00,350.80 C445.93,351.10 447.19,360.53 448.20,359.60 C449.21,358.67 449.94,350.14 450.80,345.50 C451.66,340.86 452.31,333.87 453.10,333.10 C453.89,332.33 454.46,342.80 455.30,341.10 C456.14,339.40 457.13,325.41 457.90,323.40 C458.67,321.39 459.07,324.19 459.70,329.60 C460.33,335.01 460.75,346.88 461.50,354.30 C462.25,361.72 463.21,367.15 464.00,372.00 C464.79,376.85 465.30,380.95 466.00,382.00 C466.70,383.05 467.35,376.95 468.00,378.00 C468.65,379.05 469.09,387.48 469.70,388.00 C470.31,388.52 470.87,383.40 471.50,381.00 C472.13,378.60 472.53,378.25 473.30,374.30 C474.07,370.35 475.13,364.59 475.90,358.40 C476.67,352.20 477.02,345.34 477.70,338.90 C478.38,332.46 479.03,322.83 479.80,321.60 C480.57,320.38 481.38,325.77 482.10,331.90 C482.82,338.02 483.27,347.48 483.90,356.60 C484.53,365.72 484.93,381.83 485.70,384.00 C486.47,386.17 487.53,372.87 488.30,369.00 C489.07,365.13 489.38,363.75 490.10,361.90 C490.82,360.04 491.68,357.77 492.40,358.40 C493.12,359.03 493.68,363.01 494.20,365.50 C494.72,367.99 494.88,372.44 495.40,372.60 C495.92,372.76 496.59,367.03 497.20,366.40 C497.81,365.77 498.22,371.64 498.90,369.00 C499.58,366.36 500.42,355.57 501.10,351.30 C501.78,347.03 502.10,344.29 502.80,344.60 C503.50,344.92 504.38,349.44 505.10,353.10 C505.82,356.76 506.27,363.96 506.90,365.50 C507.53,367.04 508.09,360.97 508.70,361.90 C509.31,362.83 509.94,364.66 510.40,370.80 C510.85,376.94 510.51,397.00 511.30,397.00 C512.09,397.00 513.81,376.31 514.90,370.80 C515.99,365.29 516.57,368.60 517.50,365.50 C518.43,362.40 519.05,360.38 520.20,353.10 C521.36,345.82 523.01,327.00 524.10,323.90 C525.19,320.80 525.70,327.80 526.40,335.40 C527.10,343.00 527.33,361.42 528.10,367.30 C528.87,373.18 529.71,362.23 530.80,369.00 C531.88,375.77 533.09,401.57 534.30,406.00 C535.51,410.43 536.65,399.44 537.70,394.30 C538.75,389.16 539.37,381.87 540.30,376.60 C541.23,371.33 542.23,369.15 543.00,364.20 C543.77,359.25 544.09,352.32 544.70,348.30 C545.31,344.28 545.87,341.51 546.50,341.20 C547.13,340.88 547.69,340.92 548.30,346.50 C548.91,352.08 549.39,364.42 550.00,373.10 C550.61,381.78 551.01,393.16 551.80,396.10 C552.59,399.04 553.73,389.29 554.50,389.90 C555.27,390.51 555.27,396.49 556.20,399.60 C557.13,402.72 559.01,406.46 559.80,407.70 C560.59,408.94 560.09,410.58 560.70,406.70 C561.31,402.81 562.53,391.06 563.30,385.50 C564.07,379.94 564.54,376.56 565.10,374.90 C565.66,373.24 566.04,374.62 566.50,376.00 C566.96,377.38 567.18,383.31 567.70,382.80 C568.23,382.29 568.87,373.26 569.50,373.10 C570.13,372.94 570.83,374.31 571.30,381.90 C571.77,389.49 571.48,414.01 572.20,416.50 C572.92,418.99 574.47,398.11 575.40,396.10 C576.33,394.09 576.61,403.79 577.50,405.00 C578.39,406.21 579.26,401.60 580.50,403.00 C581.74,404.40 583.59,413.89 584.60,413.00 C585.62,412.11 585.53,404.57 586.30,397.90 C587.07,391.23 588.12,379.71 589.00,374.90 C589.88,370.09 590.53,369.79 591.30,370.40 C592.07,371.01 592.72,372.97 593.40,378.40 C594.08,383.82 594.57,398.30 595.20,401.40 C595.83,404.50 596.23,395.17 597.00,396.10 C597.77,397.03 598.67,404.36 599.60,406.70 C600.53,409.04 601.37,410.58 602.30,409.50 C603.23,408.42 603.97,401.60 604.90,400.50 C605.83,399.40 606.81,402.50 607.60,403.20 C608.39,403.90 608.61,401.02 609.40,404.50 C610.19,407.98 611.17,422.02 612.10,423.10 C613.03,424.19 613.72,414.48 614.70,410.70 C615.68,406.92 616.91,402.11 617.70,401.50 C618.49,400.89 618.54,401.72 619.20,407.20 C619.87,412.68 620.73,431.57 621.50,432.80 C622.27,434.03 622.92,416.67 623.60,414.20 C624.28,411.73 624.79,419.47 625.40,418.70 C626.01,417.93 626.33,412.74 627.10,409.80 C627.87,406.86 628.87,401.90 629.80,401.90 C630.73,401.90 631.54,411.67 632.40,409.80 C633.26,407.93 633.91,395.68 634.70,391.20 C635.49,386.72 636.15,383.88 636.90,384.20 C637.65,384.51 638.23,385.42 639.00,393.00 C639.77,400.58 640.44,423.79 641.30,427.50 C642.16,431.21 643.13,416.37 643.90,414.20 C644.67,412.03 645.02,413.54 645.70,415.10 C646.38,416.66 646.87,424.03 647.80,423.10 C648.73,422.17 649.97,412.43 651.00,409.80 C652.03,407.18 652.77,406.09 653.70,408.10 C654.63,410.11 655.28,423.17 656.30,421.30 C657.31,419.43 658.57,400.18 659.50,397.40 C660.43,394.62 660.76,398.57 661.60,405.40 C662.44,412.22 663.51,431.60 664.30,436.40 C665.09,441.19 665.33,431.26 666.10,432.80 C666.87,434.34 667.69,447.67 668.70,445.20 C669.72,442.73 670.97,421.95 671.90,418.70 C672.83,415.44 673.32,426.44 674.00,426.60 C674.68,426.76 675.01,418.67 675.80,419.60 C676.59,420.53 677.57,432.69 678.50,431.90 C679.43,431.11 680.64,418.04 681.10,415.10" fill="none" stroke="#2181c4" stroke-width="1.15" stroke-linejoin="round" clip-path="url(#cd)"/>
<polyline points="457.00,323.00 524.10,323.00 575.40,382.30" fill="none" stroke="#141414" stroke-width="2.0" stroke-dasharray="6,2.2" stroke-linejoin="miter"/>
<polyline points="449.90,378.10 518.20,378.30 568.60,437.40" fill="none" stroke="#141414" stroke-width="2.0" stroke-dasharray="6,2.2" stroke-linejoin="miter"/>
<text x="536.80" y="330.20" font-size="11" fill="#9e2329" letter-spacing="0.35">2nd <tspan font-style="italic" letter-spacing="-0.4">E</tspan><tspan font-size="8" dx="-1.3" dy="4.0" letter-spacing="0">c</tspan></text>
<text x="477.00" y="464.00" font-size="11" fill="#9e2329" letter-spacing="0.35">2nd <tspan font-style="italic" letter-spacing="-0.4">E</tspan><tspan font-size="8" dx="-1.3" dy="4.0" letter-spacing="0">c</tspan></text>
<line x1="519.3" y1="279.2" x2="528.6" y2="279.2" stroke="#2181c4" stroke-width="1.3"/>
<line x1="519.3" y1="297.4" x2="528.6" y2="297.4" stroke="#e35d2f" stroke-width="1.3"/>
<text x="534.2" y="282.5" font-size="10.5" fill="#303030" letter-spacing="0.25"><tspan font-style="italic">λ</tspan> = 900 nm 6 × 10<tspan font-size="6.93" dy="-4.2">13</tspan><tspan dy="4.2"> W cm</tspan><tspan font-size="6.93" dy="-4.2">-2</tspan></text>
<text x="534.2" y="300.5" font-size="10.5" fill="#303030" letter-spacing="0.19"><tspan font-style="italic">λ</tspan>&#160; = 1,800 nm 5 × 10<tspan font-size="6.93" dy="-4.2">13</tspan><tspan dy="4.2"> W cm</tspan><tspan font-size="6.93" dy="-4.2">-2</tspan></text>
</svg></body></html>
